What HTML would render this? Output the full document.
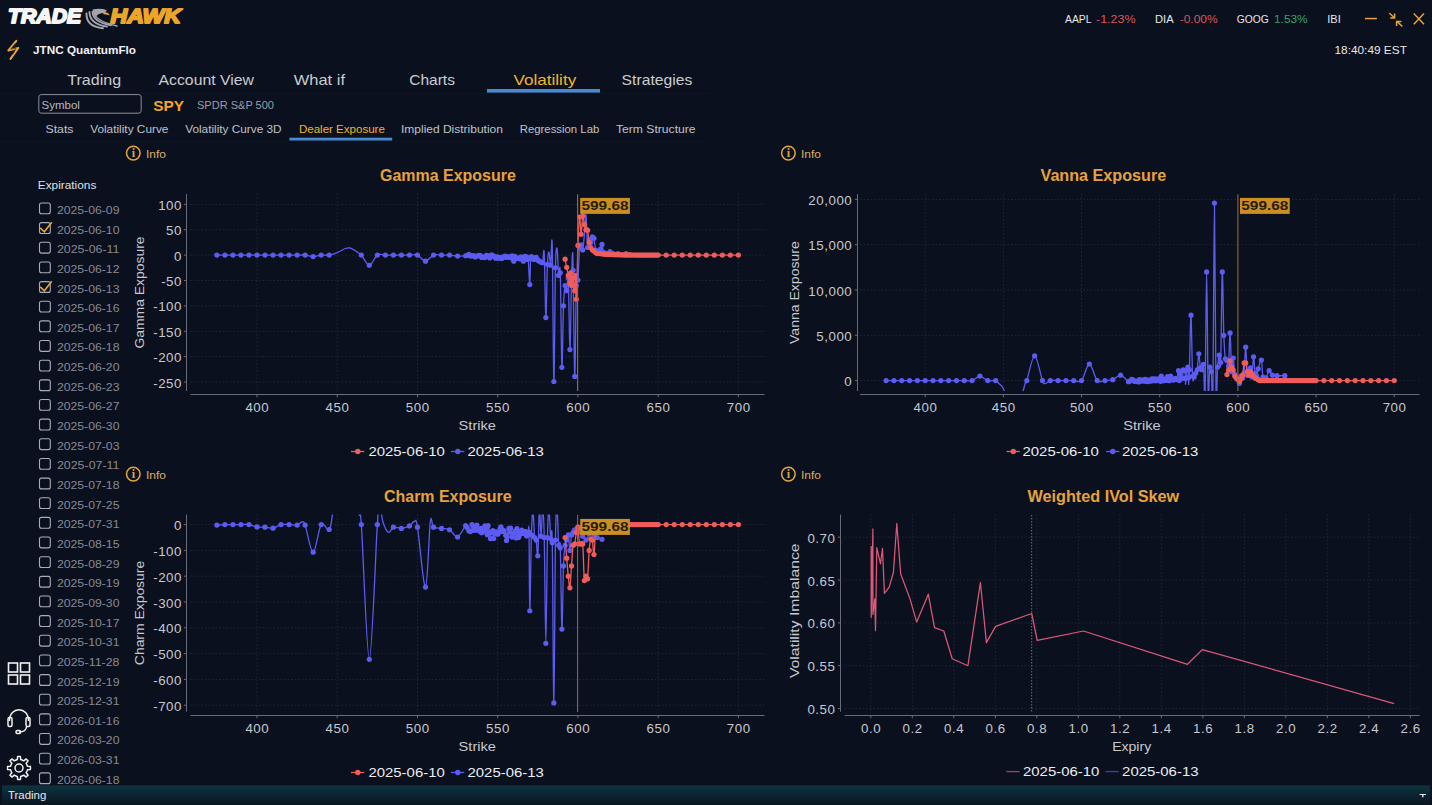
<!DOCTYPE html>
<html><head><meta charset="utf-8"><style>
html,body{margin:0;padding:0;background:#0b101e;overflow:hidden;}
svg{display:block;}
</style></head><body>
<svg width="1432" height="805" viewBox="0 0 1432 805">
<rect width="1432" height="805" fill="#0b101e"/>
<text x="8" y="22.8" font-family="Liberation Sans" font-size="21" font-weight="bold" font-style="italic" fill="#f6f6f6" stroke="#f6f6f6" stroke-width="1.9" stroke-linejoin="round" textLength="73.2" lengthAdjust="spacingAndGlyphs">TRADE</text>
<text x="110.6" y="22.8" font-family="Liberation Sans" font-size="21" font-weight="bold" font-style="italic" fill="#eba62a" stroke="#eba62a" stroke-width="1.9" stroke-linejoin="round" textLength="70.4" lengthAdjust="spacingAndGlyphs">HAWK</text>
<g fill="none" stroke="#a3a5ab" stroke-width="1.9" stroke-linecap="round"><path d="M86.5 13.5 Q86 26.5 103 28.2"/><path d="M89.5 12 Q89.5 24 107 26.6"/><path d="M92.5 12 Q93 22 111 25.2"/><path d="M95.5 15.5 Q98.5 21.5 117 26" stroke-width="1.4"/></g>
<path d="M92.5 9.6 Q100 7.6 107 10.2 L104.5 13 Q98.5 12.8 95.5 17.2 Q92.5 14 92.5 9.6 Z" fill="#a3a5ab"/>
<path d="M103.4 12.6 Q107.8 11 109.8 15.2 L106 14.6 Q104.5 14 103.4 14.2 Z" fill="#eaa62c"/>
<path d="M16.3 40.8 L8.4 50.4 L18.3 47.9 L10.5 58.9" fill="none" stroke="#e2a43a" stroke-width="2.1" stroke-linejoin="round" stroke-linecap="round"/>
<path d="M15.2 43.5 L10.8 49.2 L15.8 48.2 L12.8 54.5" fill="none" stroke="#0b101e" stroke-width="0.7" stroke-linejoin="round" opacity="0.7"/>
<text x="33" y="53.6" font-family="Liberation Sans" font-size="10.5" font-weight="bold" fill="#f2f2f2" text-anchor="start" textLength="103" lengthAdjust="spacingAndGlyphs" >JTNC QuantumFlo</text>
<text x="1065" y="23.2" font-family="Liberation Sans" font-size="10.5" font-weight="normal" fill="#e6e8ec" text-anchor="start" textLength="26.6" lengthAdjust="spacingAndGlyphs" >AAPL</text>
<text x="1096" y="23.2" font-family="Liberation Sans" font-size="10.5" font-weight="normal" fill="#d9545c" text-anchor="start" textLength="39.5" lengthAdjust="spacingAndGlyphs" >-1.23%</text>
<text x="1155" y="23.2" font-family="Liberation Sans" font-size="10.5" font-weight="normal" fill="#e6e8ec" text-anchor="start" textLength="18.6" lengthAdjust="spacingAndGlyphs" >DIA</text>
<text x="1179.7" y="23.2" font-family="Liberation Sans" font-size="10.5" font-weight="normal" fill="#d9545c" text-anchor="start" textLength="37.9" lengthAdjust="spacingAndGlyphs" >-0.00%</text>
<text x="1236.8" y="23.2" font-family="Liberation Sans" font-size="10.5" font-weight="normal" fill="#e6e8ec" text-anchor="start" textLength="32" lengthAdjust="spacingAndGlyphs" >GOOG</text>
<text x="1274" y="23.2" font-family="Liberation Sans" font-size="10.5" font-weight="normal" fill="#2fa56a" text-anchor="start" textLength="33.6" lengthAdjust="spacingAndGlyphs" >1.53%</text>
<text x="1327.3" y="23.2" font-family="Liberation Sans" font-size="10.5" font-weight="normal" fill="#e6e8ec" text-anchor="start" textLength="13.4" lengthAdjust="spacingAndGlyphs" >IBI</text>
<rect x="1364.9" y="17.8" width="12" height="1.5" fill="#e8a33b"/>
<g stroke="#e8a33b" stroke-width="1.5" fill="none" stroke-linecap="butt"><path d="M1389.3 13 L1394.3 17.8"/><path d="M1390.2 17.9 L1394.6 17.9 L1394.6 13.5"/><path d="M1402.3 26.5 L1397 21.4"/><path d="M1401.4 21.4 L1396.6 21.4 L1396.6 26.1"/></g>
<g stroke="#e8a33b" stroke-width="1.45"><path d="M1413.8 13.6 L1424 24.2"/><path d="M1424 13.6 L1413.8 24.2"/></g>
<text x="1334.5" y="53.9" font-family="Liberation Sans" font-size="10.8" font-weight="normal" fill="#e6e8ec" text-anchor="start" textLength="72.4" lengthAdjust="spacingAndGlyphs" >18:40:49 EST</text>
<rect x="0" y="35" width="1360" height="1" fill="#10162500"/>
<text x="67.3" y="84.5" font-family="Liberation Sans" font-size="15" font-weight="normal" fill="#c9ccd2" text-anchor="start" textLength="53.8" lengthAdjust="spacingAndGlyphs" >Trading</text>
<text x="158.6" y="84.5" font-family="Liberation Sans" font-size="15" font-weight="normal" fill="#c9ccd2" text-anchor="start" textLength="95.2" lengthAdjust="spacingAndGlyphs" >Account View</text>
<text x="293.8" y="84.5" font-family="Liberation Sans" font-size="15" font-weight="normal" fill="#c9ccd2" text-anchor="start" textLength="51.2" lengthAdjust="spacingAndGlyphs" >What if</text>
<text x="409.3" y="84.5" font-family="Liberation Sans" font-size="15" font-weight="normal" fill="#c9ccd2" text-anchor="start" textLength="45.6" lengthAdjust="spacingAndGlyphs" >Charts</text>
<text x="513.5" y="84.5" font-family="Liberation Sans" font-size="15" font-weight="normal" fill="#f0b429" text-anchor="start" textLength="62.7" lengthAdjust="spacingAndGlyphs" >Volatility</text>
<text x="621.6" y="84.5" font-family="Liberation Sans" font-size="15" font-weight="normal" fill="#c9ccd2" text-anchor="start" textLength="70.7" lengthAdjust="spacingAndGlyphs" >Strategies</text>
<rect x="487" y="89" width="113" height="3.6" fill="#4b8ad0"/>
<rect x="0" y="93" width="710" height="1" fill="#0e1425"/>
<rect x="38.8" y="94.6" width="102.4" height="18.6" rx="2.5" fill="none" stroke="#8b8f98" stroke-width="1"/>
<text x="41.5" y="109.4" font-family="Liberation Sans" font-size="11" font-weight="normal" fill="#b5b8c0" text-anchor="start" textLength="38.4" lengthAdjust="spacingAndGlyphs" >Symbol</text>
<text x="153.2" y="110.9" font-family="Liberation Sans" font-size="14.5" font-weight="bold" fill="#f0a52a" text-anchor="start" textLength="30.8" lengthAdjust="spacingAndGlyphs" >SPY</text>
<text x="197" y="109.4" font-family="Liberation Sans" font-size="11" font-weight="normal" fill="#9a9da5" text-anchor="start" textLength="77" lengthAdjust="spacingAndGlyphs" >SPDR S&amp;P 500</text>
<text x="45.5" y="133" font-family="Liberation Sans" font-size="11.5" font-weight="normal" fill="#bfc3ca" text-anchor="start" textLength="28.0" lengthAdjust="spacingAndGlyphs" >Stats</text>
<text x="90.2" y="133" font-family="Liberation Sans" font-size="11.5" font-weight="normal" fill="#bfc3ca" text-anchor="start" textLength="78.2" lengthAdjust="spacingAndGlyphs" >Volatility Curve</text>
<text x="185.2" y="133" font-family="Liberation Sans" font-size="11.5" font-weight="normal" fill="#bfc3ca" text-anchor="start" textLength="96.4" lengthAdjust="spacingAndGlyphs" >Volatility Curve 3D</text>
<text x="298.9" y="133" font-family="Liberation Sans" font-size="11.5" font-weight="normal" fill="#f0b429" text-anchor="start" textLength="86.0" lengthAdjust="spacingAndGlyphs" >Dealer Exposure</text>
<text x="401" y="133" font-family="Liberation Sans" font-size="11.5" font-weight="normal" fill="#bfc3ca" text-anchor="start" textLength="101.9" lengthAdjust="spacingAndGlyphs" >Implied Distribution</text>
<text x="519.7" y="133" font-family="Liberation Sans" font-size="11.5" font-weight="normal" fill="#bfc3ca" text-anchor="start" textLength="79.6" lengthAdjust="spacingAndGlyphs" >Regression Lab</text>
<text x="616" y="133" font-family="Liberation Sans" font-size="11.5" font-weight="normal" fill="#bfc3ca" text-anchor="start" textLength="79.6" lengthAdjust="spacingAndGlyphs" >Term Structure</text>
<rect x="289.4" y="137.7" width="102.8" height="2.8" fill="#4b8ad0"/>
<rect x="0" y="141" width="705" height="1" fill="#0e1425"/>
<circle cx="133.3" cy="153.1" r="6.8" fill="none" stroke="#dfa642" stroke-width="1.5"/>
<text x="133.3" y="157.4" font-family="Liberation Serif" font-size="12" font-weight="bold" fill="#dfa642" text-anchor="middle">i</text>
<text x="145.9" y="157.9" font-family="Liberation Sans" font-size="10.5" font-weight="normal" fill="#dbb062" text-anchor="start" textLength="20" lengthAdjust="spacingAndGlyphs" >Info</text>
<circle cx="788.4" cy="153.1" r="6.8" fill="none" stroke="#dfa642" stroke-width="1.5"/>
<text x="788.4" y="157.4" font-family="Liberation Serif" font-size="12" font-weight="bold" fill="#dfa642" text-anchor="middle">i</text>
<text x="801.0" y="157.9" font-family="Liberation Sans" font-size="10.5" font-weight="normal" fill="#dbb062" text-anchor="start" textLength="20" lengthAdjust="spacingAndGlyphs" >Info</text>
<circle cx="133.3" cy="474.1" r="6.8" fill="none" stroke="#dfa642" stroke-width="1.5"/>
<text x="133.3" y="478.40000000000003" font-family="Liberation Serif" font-size="12" font-weight="bold" fill="#dfa642" text-anchor="middle">i</text>
<text x="145.9" y="478.90000000000003" font-family="Liberation Sans" font-size="10.5" font-weight="normal" fill="#dbb062" text-anchor="start" textLength="20" lengthAdjust="spacingAndGlyphs" >Info</text>
<circle cx="788.4" cy="474.1" r="6.8" fill="none" stroke="#dfa642" stroke-width="1.5"/>
<text x="788.4" y="478.40000000000003" font-family="Liberation Serif" font-size="12" font-weight="bold" fill="#dfa642" text-anchor="middle">i</text>
<text x="801.0" y="478.90000000000003" font-family="Liberation Sans" font-size="10.5" font-weight="normal" fill="#dbb062" text-anchor="start" textLength="20" lengthAdjust="spacingAndGlyphs" >Info</text>
<text x="37.8" y="189.3" font-family="Liberation Sans" font-size="11" font-weight="normal" fill="#dfe1e6" text-anchor="start" textLength="58.5" lengthAdjust="spacingAndGlyphs" >Expirations</text>
<rect x="39.5" y="203.00" width="10.8" height="10.8" rx="2" fill="none" stroke="#a9adb8" stroke-width="1.1"/>
<text x="56.9" y="213.9" font-family="Liberation Sans" font-size="10.0" font-weight="normal" fill="#868a93" text-anchor="start" textLength="62.6" lengthAdjust="spacingAndGlyphs" >2025-06-09</text>
<rect x="39.5" y="222.65" width="10.8" height="10.8" rx="2" fill="none" stroke="#a9adb8" stroke-width="1.1"/>
<path d="M40.2 227.95 L44.3 231.85 L51.8 222.25" fill="none" stroke="#eaa630" stroke-width="1.6"/>
<text x="56.9" y="233.55" font-family="Liberation Sans" font-size="10.0" font-weight="normal" fill="#868a93" text-anchor="start" textLength="62.6" lengthAdjust="spacingAndGlyphs" >2025-06-10</text>
<rect x="39.5" y="242.30" width="10.8" height="10.8" rx="2" fill="none" stroke="#a9adb8" stroke-width="1.1"/>
<text x="56.9" y="253.20000000000002" font-family="Liberation Sans" font-size="10.0" font-weight="normal" fill="#868a93" text-anchor="start" textLength="62.6" lengthAdjust="spacingAndGlyphs" >2025-06-11</text>
<rect x="39.5" y="261.95" width="10.8" height="10.8" rx="2" fill="none" stroke="#a9adb8" stroke-width="1.1"/>
<text x="56.9" y="272.84999999999997" font-family="Liberation Sans" font-size="10.0" font-weight="normal" fill="#868a93" text-anchor="start" textLength="62.6" lengthAdjust="spacingAndGlyphs" >2025-06-12</text>
<rect x="39.5" y="281.60" width="10.8" height="10.8" rx="2" fill="none" stroke="#a9adb8" stroke-width="1.1"/>
<path d="M40.2 286.90 L44.3 290.80 L51.8 281.20" fill="none" stroke="#eaa630" stroke-width="1.6"/>
<text x="56.9" y="292.5" font-family="Liberation Sans" font-size="10.0" font-weight="normal" fill="#868a93" text-anchor="start" textLength="62.6" lengthAdjust="spacingAndGlyphs" >2025-06-13</text>
<rect x="39.5" y="301.25" width="10.8" height="10.8" rx="2" fill="none" stroke="#a9adb8" stroke-width="1.1"/>
<text x="56.9" y="312.15" font-family="Liberation Sans" font-size="10.0" font-weight="normal" fill="#868a93" text-anchor="start" textLength="62.6" lengthAdjust="spacingAndGlyphs" >2025-06-16</text>
<rect x="39.5" y="320.90" width="10.8" height="10.8" rx="2" fill="none" stroke="#a9adb8" stroke-width="1.1"/>
<text x="56.9" y="331.79999999999995" font-family="Liberation Sans" font-size="10.0" font-weight="normal" fill="#868a93" text-anchor="start" textLength="62.6" lengthAdjust="spacingAndGlyphs" >2025-06-17</text>
<rect x="39.5" y="340.55" width="10.8" height="10.8" rx="2" fill="none" stroke="#a9adb8" stroke-width="1.1"/>
<text x="56.9" y="351.44999999999993" font-family="Liberation Sans" font-size="10.0" font-weight="normal" fill="#868a93" text-anchor="start" textLength="62.6" lengthAdjust="spacingAndGlyphs" >2025-06-18</text>
<rect x="39.5" y="360.20" width="10.8" height="10.8" rx="2" fill="none" stroke="#a9adb8" stroke-width="1.1"/>
<text x="56.9" y="371.09999999999997" font-family="Liberation Sans" font-size="10.0" font-weight="normal" fill="#868a93" text-anchor="start" textLength="62.6" lengthAdjust="spacingAndGlyphs" >2025-06-20</text>
<rect x="39.5" y="379.85" width="10.8" height="10.8" rx="2" fill="none" stroke="#a9adb8" stroke-width="1.1"/>
<text x="56.9" y="390.75" font-family="Liberation Sans" font-size="10.0" font-weight="normal" fill="#868a93" text-anchor="start" textLength="62.6" lengthAdjust="spacingAndGlyphs" >2025-06-23</text>
<rect x="39.5" y="399.50" width="10.8" height="10.8" rx="2" fill="none" stroke="#a9adb8" stroke-width="1.1"/>
<text x="56.9" y="410.4" font-family="Liberation Sans" font-size="10.0" font-weight="normal" fill="#868a93" text-anchor="start" textLength="62.6" lengthAdjust="spacingAndGlyphs" >2025-06-27</text>
<rect x="39.5" y="419.15" width="10.8" height="10.8" rx="2" fill="none" stroke="#a9adb8" stroke-width="1.1"/>
<text x="56.9" y="430.04999999999995" font-family="Liberation Sans" font-size="10.0" font-weight="normal" fill="#868a93" text-anchor="start" textLength="62.6" lengthAdjust="spacingAndGlyphs" >2025-06-30</text>
<rect x="39.5" y="438.80" width="10.8" height="10.8" rx="2" fill="none" stroke="#a9adb8" stroke-width="1.1"/>
<text x="56.9" y="449.69999999999993" font-family="Liberation Sans" font-size="10.0" font-weight="normal" fill="#868a93" text-anchor="start" textLength="62.6" lengthAdjust="spacingAndGlyphs" >2025-07-03</text>
<rect x="39.5" y="458.45" width="10.8" height="10.8" rx="2" fill="none" stroke="#a9adb8" stroke-width="1.1"/>
<text x="56.9" y="469.34999999999997" font-family="Liberation Sans" font-size="10.0" font-weight="normal" fill="#868a93" text-anchor="start" textLength="62.6" lengthAdjust="spacingAndGlyphs" >2025-07-11</text>
<rect x="39.5" y="478.10" width="10.8" height="10.8" rx="2" fill="none" stroke="#a9adb8" stroke-width="1.1"/>
<text x="56.9" y="488.99999999999994" font-family="Liberation Sans" font-size="10.0" font-weight="normal" fill="#868a93" text-anchor="start" textLength="62.6" lengthAdjust="spacingAndGlyphs" >2025-07-18</text>
<rect x="39.5" y="497.75" width="10.8" height="10.8" rx="2" fill="none" stroke="#a9adb8" stroke-width="1.1"/>
<text x="56.9" y="508.65" font-family="Liberation Sans" font-size="10.0" font-weight="normal" fill="#868a93" text-anchor="start" textLength="62.6" lengthAdjust="spacingAndGlyphs" >2025-07-25</text>
<rect x="39.5" y="517.40" width="10.8" height="10.8" rx="2" fill="none" stroke="#a9adb8" stroke-width="1.1"/>
<text x="56.9" y="528.3" font-family="Liberation Sans" font-size="10.0" font-weight="normal" fill="#868a93" text-anchor="start" textLength="62.6" lengthAdjust="spacingAndGlyphs" >2025-07-31</text>
<rect x="39.5" y="537.05" width="10.8" height="10.8" rx="2" fill="none" stroke="#a9adb8" stroke-width="1.1"/>
<text x="56.9" y="547.9499999999999" font-family="Liberation Sans" font-size="10.0" font-weight="normal" fill="#868a93" text-anchor="start" textLength="62.6" lengthAdjust="spacingAndGlyphs" >2025-08-15</text>
<rect x="39.5" y="556.70" width="10.8" height="10.8" rx="2" fill="none" stroke="#a9adb8" stroke-width="1.1"/>
<text x="56.9" y="567.6" font-family="Liberation Sans" font-size="10.0" font-weight="normal" fill="#868a93" text-anchor="start" textLength="62.6" lengthAdjust="spacingAndGlyphs" >2025-08-29</text>
<rect x="39.5" y="576.35" width="10.8" height="10.8" rx="2" fill="none" stroke="#a9adb8" stroke-width="1.1"/>
<text x="56.9" y="587.2499999999999" font-family="Liberation Sans" font-size="10.0" font-weight="normal" fill="#868a93" text-anchor="start" textLength="62.6" lengthAdjust="spacingAndGlyphs" >2025-09-19</text>
<rect x="39.5" y="596.00" width="10.8" height="10.8" rx="2" fill="none" stroke="#a9adb8" stroke-width="1.1"/>
<text x="56.9" y="606.9" font-family="Liberation Sans" font-size="10.0" font-weight="normal" fill="#868a93" text-anchor="start" textLength="62.6" lengthAdjust="spacingAndGlyphs" >2025-09-30</text>
<rect x="39.5" y="615.65" width="10.8" height="10.8" rx="2" fill="none" stroke="#a9adb8" stroke-width="1.1"/>
<text x="56.9" y="626.55" font-family="Liberation Sans" font-size="10.0" font-weight="normal" fill="#868a93" text-anchor="start" textLength="62.6" lengthAdjust="spacingAndGlyphs" >2025-10-17</text>
<rect x="39.5" y="635.30" width="10.8" height="10.8" rx="2" fill="none" stroke="#a9adb8" stroke-width="1.1"/>
<text x="56.9" y="646.1999999999999" font-family="Liberation Sans" font-size="10.0" font-weight="normal" fill="#868a93" text-anchor="start" textLength="62.6" lengthAdjust="spacingAndGlyphs" >2025-10-31</text>
<rect x="39.5" y="654.95" width="10.8" height="10.8" rx="2" fill="none" stroke="#a9adb8" stroke-width="1.1"/>
<text x="56.9" y="665.85" font-family="Liberation Sans" font-size="10.0" font-weight="normal" fill="#868a93" text-anchor="start" textLength="62.6" lengthAdjust="spacingAndGlyphs" >2025-11-28</text>
<rect x="39.5" y="674.60" width="10.8" height="10.8" rx="2" fill="none" stroke="#a9adb8" stroke-width="1.1"/>
<text x="56.9" y="685.4999999999999" font-family="Liberation Sans" font-size="10.0" font-weight="normal" fill="#868a93" text-anchor="start" textLength="62.6" lengthAdjust="spacingAndGlyphs" >2025-12-19</text>
<rect x="39.5" y="694.25" width="10.8" height="10.8" rx="2" fill="none" stroke="#a9adb8" stroke-width="1.1"/>
<text x="56.9" y="705.15" font-family="Liberation Sans" font-size="10.0" font-weight="normal" fill="#868a93" text-anchor="start" textLength="62.6" lengthAdjust="spacingAndGlyphs" >2025-12-31</text>
<rect x="39.5" y="713.90" width="10.8" height="10.8" rx="2" fill="none" stroke="#a9adb8" stroke-width="1.1"/>
<text x="56.9" y="724.8" font-family="Liberation Sans" font-size="10.0" font-weight="normal" fill="#868a93" text-anchor="start" textLength="62.6" lengthAdjust="spacingAndGlyphs" >2026-01-16</text>
<rect x="39.5" y="733.55" width="10.8" height="10.8" rx="2" fill="none" stroke="#a9adb8" stroke-width="1.1"/>
<text x="56.9" y="744.4499999999999" font-family="Liberation Sans" font-size="10.0" font-weight="normal" fill="#868a93" text-anchor="start" textLength="62.6" lengthAdjust="spacingAndGlyphs" >2026-03-20</text>
<rect x="39.5" y="753.20" width="10.8" height="10.8" rx="2" fill="none" stroke="#a9adb8" stroke-width="1.1"/>
<text x="56.9" y="764.0999999999999" font-family="Liberation Sans" font-size="10.0" font-weight="normal" fill="#868a93" text-anchor="start" textLength="62.6" lengthAdjust="spacingAndGlyphs" >2026-03-31</text>
<rect x="39.5" y="772.85" width="10.8" height="10.8" rx="2" fill="none" stroke="#a9adb8" stroke-width="1.1"/>
<text x="56.9" y="783.7499999999999" font-family="Liberation Sans" font-size="10.0" font-weight="normal" fill="#868a93" text-anchor="start" textLength="62.6" lengthAdjust="spacingAndGlyphs" >2026-06-18</text>
<g fill="none" stroke="#f2f2f2" stroke-width="1.6"><rect x="8.5" y="663" width="9" height="9"/><rect x="20.5" y="663" width="9" height="9"/><rect x="8.5" y="675" width="9" height="9"/><rect x="20.5" y="675" width="9" height="9"/></g>
<g fill="none" stroke="#f2f2f2" stroke-width="1.5"><path d="M9.5 721 C9.5 706 28.5 706 28.5 721"/><rect x="8" y="717.5" width="4" height="9" rx="1.5"/><rect x="26" y="717.5" width="4" height="9" rx="1.5"/><path d="M26.5 727 C26 731 23 732 19 732"/><rect x="16" y="730.5" width="4.5" height="3" rx="1.2"/></g>
<path d="M27.43 766.29 L30.42 766.62 L30.42 769.38 L27.43 769.71 L27.23 770.48 L26.17 772.75 L28.05 775.10 L26.10 777.05 L23.75 775.17 L23.07 775.58 L20.71 776.43 L20.38 779.42 L17.62 779.42 L17.29 776.43 L16.52 776.23 L14.25 775.17 L11.90 777.05 L9.95 775.10 L11.83 772.75 L11.42 772.07 L10.57 769.71 L7.58 769.38 L7.58 766.62 L10.57 766.29 L10.77 765.52 L11.83 763.25 L9.95 760.90 L11.90 758.95 L14.25 760.83 L14.93 760.42 L17.29 759.57 L17.62 756.58 L20.38 756.58 L20.71 759.57 L21.48 759.77 L23.75 760.83 L26.10 758.95 L28.05 760.90 L26.17 763.25 L26.58 763.93 Z" fill="none" stroke="#f2f2f2" stroke-width="1.5" stroke-linejoin="round"/>
<circle cx="19" cy="768" r="4" fill="none" stroke="#f2f2f2" stroke-width="1.5"/>
<defs><linearGradient id="bb" x1="0" y1="0" x2="0" y2="1"><stop offset="0" stop-color="#0d3440"/><stop offset="0.45" stop-color="#0b2532"/><stop offset="1" stop-color="#0a1522"/></linearGradient></defs>
<rect x="2" y="785.4" width="1428.3" height="19.6" fill="url(#bb)"/>
<text x="8" y="799.1" font-family="Liberation Sans" font-size="10.7" font-weight="normal" fill="#e8eaee" text-anchor="start" textLength="38.3" lengthAdjust="spacingAndGlyphs" >Trading</text>
<path d="M1419.6 793.9 L1426 793.9 L1426 795.1 L1423.5 795.1 L1423.5 797.2 L1422.1 797.2 L1422.1 795.1 L1419.6 795.1 Z" fill="#e6e6e6"/>
<text x="380" y="180.7" font-family="Liberation Sans" font-size="16" font-weight="bold" fill="#e6a23c" text-anchor="start" textLength="135.8" lengthAdjust="spacingAndGlyphs" >Gamma Exposure</text>
<path d="M577.6 194.5V391" stroke="#9a7a3a" stroke-width="1"/>
<clipPath id="cg"><rect x="190" y="194" width="575" height="197"/></clipPath>
<path d="M257.0 194V391 M337.2 194V391 M417.5 194V391 M497.7 194V391 M577.9 194V391 M658.2 194V391 M738.4 194V391 M190.5 204.3H764.5 M190.5 229.7H764.5 M190.5 255.1H764.5 M190.5 280.5H764.5 M190.5 305.9H764.5 M190.5 331.3H764.5 M190.5 356.6H764.5 M190.5 382.0H764.5" stroke="#21273a" stroke-width="1" stroke-dasharray="1.5 2.1" fill="none"/>
<path d="M186.5 194V391 M190.5 394.5H764.5" stroke="#666c7a" stroke-width="1" fill="none"/>
<path d="M257.0 394.5v2.8 M337.2 394.5v2.8 M417.5 394.5v2.8 M497.7 394.5v2.8 M577.9 394.5v2.8 M658.2 394.5v2.8 M738.4 394.5v2.8 M186.5 204.3h-2.6 M186.5 229.7h-2.6 M186.5 255.1h-2.6 M186.5 280.5h-2.6 M186.5 305.9h-2.6 M186.5 331.3h-2.6 M186.5 356.6h-2.6 M186.5 382.0h-2.6" stroke="#666c7a" stroke-width="1" fill="none"/>
<g clip-path="url(#cg)">
<path d="M216.88 255.10 C218.22 255.10 222.23 255.10 224.91 255.10 C227.58 255.10 230.25 255.10 232.93 255.10 C235.60 255.10 238.28 255.10 240.95 255.10 C243.63 255.10 246.30 255.10 248.98 255.10 C251.65 255.10 254.33 255.10 257.00 255.10 C259.67 255.10 262.35 255.10 265.02 255.10 C267.70 255.10 270.37 255.10 273.05 255.10 C275.72 255.10 278.40 255.10 281.07 255.10 C283.75 255.10 286.42 255.10 289.09 255.10 C291.77 255.10 294.44 255.10 297.12 255.10 C299.79 255.10 302.47 254.85 305.14 255.10 C307.82 255.35 310.49 256.62 313.16 256.62 C315.84 256.62 318.51 255.35 321.19 255.10 C323.86 254.85 326.54 255.52 329.21 255.10 C331.89 254.68 334.56 253.66 337.24 252.56 C339.91 251.46 343.12 249.26 345.26 248.50 C347.40 247.74 348.47 247.65 350.07 247.99 C351.68 248.33 353.01 249.35 354.89 250.53 C356.76 251.72 358.90 252.65 361.31 255.10 C363.71 257.55 366.65 265.25 369.33 265.25 C372.00 265.25 374.68 256.79 377.35 255.10 C380.03 253.41 382.70 255.10 385.38 255.10 C388.05 255.10 390.72 255.10 393.40 255.10 C396.07 255.10 398.75 255.10 401.42 255.10 C404.10 255.10 406.77 255.10 409.45 255.10 C412.12 255.10 414.80 254.08 417.47 255.10 C420.14 256.12 422.82 261.19 425.49 261.19 C428.17 261.19 430.84 256.12 433.52 255.10 C436.19 254.08 438.87 255.10 441.54 255.10 C444.22 255.10 446.89 254.93 449.56 255.10 C452.24 255.27 454.91 256.01 457.59 256.12 C460.26 256.22 464.01 255.86 465.61 255.75 C467.22 255.65 466.68 255.71 467.22 255.49 C467.75 255.27 468.29 254.37 468.82 254.44 C469.36 254.51 469.89 255.66 470.43 255.90 C470.96 256.13 471.49 255.87 472.03 255.83 C472.56 255.79 473.10 255.46 473.63 255.65 C474.17 255.83 474.70 256.88 475.24 256.93 C475.77 256.99 476.31 256.20 476.84 256.00 C477.38 255.79 477.91 255.82 478.45 255.70 C478.98 255.58 479.52 254.97 480.05 255.26 C480.59 255.56 481.12 257.18 481.66 257.45 C482.19 257.72 482.73 256.85 483.26 256.88 C483.80 256.90 484.33 257.82 484.87 257.59 C485.40 257.35 485.94 255.74 486.47 255.46 C487.01 255.17 487.54 255.46 488.08 255.87 C488.61 256.28 489.15 258.04 489.68 257.92 C490.22 257.79 490.89 255.57 491.29 255.11 C491.69 254.66 491.82 254.99 492.09 255.17 C492.36 255.34 492.49 255.98 492.89 256.17 C493.29 256.37 494.09 256.09 494.50 256.35 C494.90 256.61 495.03 257.43 495.30 257.75 C495.57 258.06 495.70 258.41 496.10 258.24 C496.50 258.07 497.30 256.75 497.71 256.74 C498.11 256.73 498.24 257.99 498.51 258.17 C498.77 258.35 498.91 257.90 499.31 257.83 C499.71 257.76 500.51 257.64 500.91 257.73 C501.32 257.83 501.45 258.48 501.72 258.38 C501.98 258.28 502.12 257.31 502.52 257.12 C502.92 256.93 503.72 257.43 504.12 257.25 C504.52 257.07 504.66 256.06 504.93 256.03 C505.19 256.00 505.33 256.95 505.73 257.07 C506.13 257.20 506.93 256.74 507.33 256.76 C507.73 256.78 507.87 257.19 508.14 257.19 C508.40 257.19 508.54 256.72 508.94 256.76 C509.34 256.80 510.14 257.24 510.54 257.44 C510.94 257.65 511.08 258.25 511.34 257.99 C511.61 257.73 511.75 255.32 512.15 255.86 C512.55 256.39 513.35 261.10 513.75 261.19 C514.15 261.28 514.29 257.12 514.55 256.40 C514.82 255.68 514.96 256.58 515.36 256.86 C515.76 257.15 516.56 257.87 516.96 258.12 C517.36 258.37 517.50 258.36 517.76 258.38 C518.03 258.40 518.16 258.16 518.57 258.26 C518.97 258.36 519.77 259.22 520.17 258.99 C520.57 258.76 520.71 257.03 520.97 256.87 C521.24 256.71 521.37 257.32 521.78 258.04 C522.18 258.76 522.98 261.18 523.38 261.19 C523.78 261.21 523.92 258.93 524.18 258.15 C524.45 257.36 524.58 256.68 524.98 256.47 C525.39 256.25 526.19 256.37 526.59 256.86 C526.99 257.36 527.12 259.11 527.39 259.44 C527.66 259.78 527.79 254.68 528.19 258.87 C528.60 263.05 529.40 284.67 529.80 284.55 C530.20 284.42 530.33 262.79 530.60 258.14 C530.87 253.49 531.00 256.59 531.40 256.64 C531.80 256.70 532.61 258.01 533.01 258.48 C533.41 258.95 533.54 259.57 533.81 259.47 C534.08 259.36 534.21 258.17 534.61 257.83 C535.01 257.50 535.82 257.25 536.22 257.44 C536.62 257.63 536.75 258.53 537.02 258.99 C537.29 259.45 537.42 259.81 537.82 260.18 C538.22 260.54 538.89 260.85 539.43 261.19 C539.96 261.53 540.50 261.95 541.03 262.21 C541.57 262.46 542.10 264.24 542.64 262.72 C543.17 261.19 543.71 243.93 544.24 253.07 C544.78 262.21 545.31 315.69 545.85 317.55 C546.38 319.41 546.92 275.15 547.45 264.24 C547.99 253.32 548.52 251.88 549.06 252.05 C549.59 252.22 550.13 266.35 550.66 265.25 C551.20 264.15 551.73 226.08 552.26 245.45 C552.80 264.83 553.33 377.79 553.87 381.52 C554.40 385.24 554.94 289.96 555.47 267.79 C556.01 245.62 556.54 247.23 557.08 248.50 C557.61 249.77 558.15 271.35 558.68 275.41 C559.22 279.47 559.75 257.55 560.29 272.87 C560.82 288.19 561.36 361.80 561.89 367.30 C562.43 372.80 562.96 319.49 563.50 305.87 C564.03 292.25 564.57 288.10 565.10 285.56 C565.64 283.02 566.17 291.91 566.71 290.64 C567.24 289.37 567.78 268.13 568.31 277.95 C568.85 287.76 569.38 349.11 569.92 349.53 C570.45 349.96 571.09 296.48 571.52 280.49 C571.95 264.49 572.22 255.27 572.48 253.58 C572.75 251.88 572.75 249.85 573.13 270.33 C573.50 290.81 574.20 373.90 574.73 376.44 C575.27 378.98 575.80 301.64 576.34 285.56 C576.87 269.48 577.41 286.32 577.94 279.98 C578.47 273.63 579.01 253.32 579.54 247.48 C580.08 241.65 580.61 244.52 581.15 244.95 C581.68 245.37 582.22 251.72 582.75 250.02 C583.29 248.33 583.82 240.72 584.36 234.79 C584.89 228.87 585.43 212.37 585.96 214.48 C586.50 216.60 587.03 243.25 587.57 247.48 C588.10 251.72 588.64 240.72 589.17 239.87 C589.71 239.02 590.24 242.92 590.78 242.41 C591.31 241.90 591.85 237.50 592.38 236.82 C592.92 236.15 593.45 236.15 593.99 238.35 C594.52 240.55 595.06 247.65 595.59 250.02 C596.13 252.39 596.66 252.39 597.20 252.56 C597.73 252.73 598.27 251.63 598.80 251.04 C599.34 250.45 599.87 250.11 600.41 249.01 C600.94 247.91 601.48 243.85 602.01 244.44 C602.55 245.03 603.08 251.12 603.62 252.56 C604.15 254.00 604.69 252.90 605.22 253.07 C605.75 253.24 606.29 253.41 606.82 253.58 C607.36 253.75 607.89 254.42 608.43 254.08 C608.96 253.75 609.23 251.63 610.03 251.55 C610.84 251.46 611.91 253.24 613.24 253.58 C614.58 253.92 615.92 253.58 618.06 253.58 C620.20 253.58 624.74 253.58 626.08 253.58" fill="none" stroke="#5c5cf2" stroke-width="1.3" stroke-linejoin="round"/>
<circle cx="216.88" cy="255.10" r="2.6" fill="#5c5cf2"/>
<circle cx="224.91" cy="255.10" r="2.6" fill="#5c5cf2"/>
<circle cx="232.93" cy="255.10" r="2.6" fill="#5c5cf2"/>
<circle cx="240.95" cy="255.10" r="2.6" fill="#5c5cf2"/>
<circle cx="248.98" cy="255.10" r="2.6" fill="#5c5cf2"/>
<circle cx="257.00" cy="255.10" r="2.6" fill="#5c5cf2"/>
<circle cx="265.02" cy="255.10" r="2.6" fill="#5c5cf2"/>
<circle cx="273.05" cy="255.10" r="2.6" fill="#5c5cf2"/>
<circle cx="281.07" cy="255.10" r="2.6" fill="#5c5cf2"/>
<circle cx="289.09" cy="255.10" r="2.6" fill="#5c5cf2"/>
<circle cx="297.12" cy="255.10" r="2.6" fill="#5c5cf2"/>
<circle cx="305.14" cy="255.10" r="2.6" fill="#5c5cf2"/>
<circle cx="313.16" cy="256.62" r="2.6" fill="#5c5cf2"/>
<circle cx="321.19" cy="255.10" r="2.6" fill="#5c5cf2"/>
<circle cx="329.21" cy="255.10" r="2.6" fill="#5c5cf2"/>
<circle cx="361.31" cy="255.10" r="2.6" fill="#5c5cf2"/>
<circle cx="369.33" cy="265.25" r="2.6" fill="#5c5cf2"/>
<circle cx="377.35" cy="255.10" r="2.6" fill="#5c5cf2"/>
<circle cx="385.38" cy="255.10" r="2.6" fill="#5c5cf2"/>
<circle cx="393.40" cy="255.10" r="2.6" fill="#5c5cf2"/>
<circle cx="401.42" cy="255.10" r="2.6" fill="#5c5cf2"/>
<circle cx="409.45" cy="255.10" r="2.6" fill="#5c5cf2"/>
<circle cx="417.47" cy="255.10" r="2.6" fill="#5c5cf2"/>
<circle cx="425.49" cy="261.19" r="2.6" fill="#5c5cf2"/>
<circle cx="433.52" cy="255.10" r="2.6" fill="#5c5cf2"/>
<circle cx="441.54" cy="255.10" r="2.6" fill="#5c5cf2"/>
<circle cx="449.56" cy="255.10" r="2.6" fill="#5c5cf2"/>
<circle cx="457.59" cy="256.12" r="2.6" fill="#5c5cf2"/>
<circle cx="465.61" cy="255.75" r="2.6" fill="#5c5cf2"/>
<circle cx="467.22" cy="255.49" r="2.6" fill="#5c5cf2"/>
<circle cx="468.82" cy="254.44" r="2.6" fill="#5c5cf2"/>
<circle cx="470.43" cy="255.90" r="2.6" fill="#5c5cf2"/>
<circle cx="472.03" cy="255.83" r="2.6" fill="#5c5cf2"/>
<circle cx="473.63" cy="255.65" r="2.6" fill="#5c5cf2"/>
<circle cx="475.24" cy="256.93" r="2.6" fill="#5c5cf2"/>
<circle cx="476.84" cy="256.00" r="2.6" fill="#5c5cf2"/>
<circle cx="478.45" cy="255.70" r="2.6" fill="#5c5cf2"/>
<circle cx="480.05" cy="255.26" r="2.6" fill="#5c5cf2"/>
<circle cx="481.66" cy="257.45" r="2.6" fill="#5c5cf2"/>
<circle cx="483.26" cy="256.88" r="2.6" fill="#5c5cf2"/>
<circle cx="484.87" cy="257.59" r="2.6" fill="#5c5cf2"/>
<circle cx="486.47" cy="255.46" r="2.6" fill="#5c5cf2"/>
<circle cx="488.08" cy="255.87" r="2.6" fill="#5c5cf2"/>
<circle cx="489.68" cy="257.92" r="2.6" fill="#5c5cf2"/>
<circle cx="491.29" cy="255.11" r="2.6" fill="#5c5cf2"/>
<circle cx="492.09" cy="255.17" r="2.6" fill="#5c5cf2"/>
<circle cx="492.89" cy="256.17" r="2.6" fill="#5c5cf2"/>
<circle cx="494.50" cy="256.35" r="2.6" fill="#5c5cf2"/>
<circle cx="495.30" cy="257.75" r="2.6" fill="#5c5cf2"/>
<circle cx="496.10" cy="258.24" r="2.6" fill="#5c5cf2"/>
<circle cx="497.71" cy="256.74" r="2.6" fill="#5c5cf2"/>
<circle cx="498.51" cy="258.17" r="2.6" fill="#5c5cf2"/>
<circle cx="499.31" cy="257.83" r="2.6" fill="#5c5cf2"/>
<circle cx="500.91" cy="257.73" r="2.6" fill="#5c5cf2"/>
<circle cx="501.72" cy="258.38" r="2.6" fill="#5c5cf2"/>
<circle cx="502.52" cy="257.12" r="2.6" fill="#5c5cf2"/>
<circle cx="504.12" cy="257.25" r="2.6" fill="#5c5cf2"/>
<circle cx="504.93" cy="256.03" r="2.6" fill="#5c5cf2"/>
<circle cx="505.73" cy="257.07" r="2.6" fill="#5c5cf2"/>
<circle cx="507.33" cy="256.76" r="2.6" fill="#5c5cf2"/>
<circle cx="508.14" cy="257.19" r="2.6" fill="#5c5cf2"/>
<circle cx="508.94" cy="256.76" r="2.6" fill="#5c5cf2"/>
<circle cx="510.54" cy="257.44" r="2.6" fill="#5c5cf2"/>
<circle cx="511.34" cy="257.99" r="2.6" fill="#5c5cf2"/>
<circle cx="512.15" cy="255.86" r="2.6" fill="#5c5cf2"/>
<circle cx="513.75" cy="261.19" r="2.6" fill="#5c5cf2"/>
<circle cx="514.55" cy="256.40" r="2.6" fill="#5c5cf2"/>
<circle cx="515.36" cy="256.86" r="2.6" fill="#5c5cf2"/>
<circle cx="516.96" cy="258.12" r="2.6" fill="#5c5cf2"/>
<circle cx="517.76" cy="258.38" r="2.6" fill="#5c5cf2"/>
<circle cx="518.57" cy="258.26" r="2.6" fill="#5c5cf2"/>
<circle cx="520.17" cy="258.99" r="2.6" fill="#5c5cf2"/>
<circle cx="520.97" cy="256.87" r="2.6" fill="#5c5cf2"/>
<circle cx="521.78" cy="258.04" r="2.6" fill="#5c5cf2"/>
<circle cx="523.38" cy="261.19" r="2.6" fill="#5c5cf2"/>
<circle cx="524.18" cy="258.15" r="2.6" fill="#5c5cf2"/>
<circle cx="524.98" cy="256.47" r="2.6" fill="#5c5cf2"/>
<circle cx="526.59" cy="256.86" r="2.6" fill="#5c5cf2"/>
<circle cx="527.39" cy="259.44" r="2.6" fill="#5c5cf2"/>
<circle cx="528.19" cy="258.87" r="2.6" fill="#5c5cf2"/>
<circle cx="529.80" cy="284.55" r="2.6" fill="#5c5cf2"/>
<circle cx="530.60" cy="258.14" r="2.6" fill="#5c5cf2"/>
<circle cx="531.40" cy="256.64" r="2.6" fill="#5c5cf2"/>
<circle cx="533.01" cy="258.48" r="2.6" fill="#5c5cf2"/>
<circle cx="533.81" cy="259.47" r="2.6" fill="#5c5cf2"/>
<circle cx="534.61" cy="257.83" r="2.6" fill="#5c5cf2"/>
<circle cx="536.22" cy="257.44" r="2.6" fill="#5c5cf2"/>
<circle cx="537.02" cy="258.99" r="2.6" fill="#5c5cf2"/>
<circle cx="537.82" cy="260.18" r="2.6" fill="#5c5cf2"/>
<circle cx="539.43" cy="261.19" r="2.6" fill="#5c5cf2"/>
<circle cx="541.03" cy="262.21" r="2.6" fill="#5c5cf2"/>
<circle cx="542.64" cy="262.72" r="2.6" fill="#5c5cf2"/>
<circle cx="545.85" cy="317.55" r="2.6" fill="#5c5cf2"/>
<circle cx="547.45" cy="264.24" r="2.6" fill="#5c5cf2"/>
<circle cx="550.66" cy="265.25" r="2.6" fill="#5c5cf2"/>
<circle cx="553.87" cy="381.52" r="2.6" fill="#5c5cf2"/>
<circle cx="555.47" cy="267.79" r="2.6" fill="#5c5cf2"/>
<circle cx="558.68" cy="275.41" r="2.6" fill="#5c5cf2"/>
<circle cx="560.29" cy="272.87" r="2.6" fill="#5c5cf2"/>
<circle cx="561.89" cy="367.30" r="2.6" fill="#5c5cf2"/>
<circle cx="563.50" cy="305.87" r="2.6" fill="#5c5cf2"/>
<circle cx="565.10" cy="285.56" r="2.6" fill="#5c5cf2"/>
<circle cx="566.71" cy="290.64" r="2.6" fill="#5c5cf2"/>
<circle cx="568.31" cy="277.95" r="2.6" fill="#5c5cf2"/>
<circle cx="569.92" cy="349.53" r="2.6" fill="#5c5cf2"/>
<circle cx="571.52" cy="280.49" r="2.6" fill="#5c5cf2"/>
<circle cx="573.13" cy="270.33" r="2.6" fill="#5c5cf2"/>
<circle cx="574.73" cy="376.44" r="2.6" fill="#5c5cf2"/>
<circle cx="576.34" cy="285.56" r="2.6" fill="#5c5cf2"/>
<circle cx="577.94" cy="279.98" r="2.6" fill="#5c5cf2"/>
<circle cx="579.54" cy="247.48" r="2.6" fill="#5c5cf2"/>
<circle cx="581.15" cy="244.95" r="2.6" fill="#5c5cf2"/>
<circle cx="582.75" cy="250.02" r="2.6" fill="#5c5cf2"/>
<circle cx="587.57" cy="247.48" r="2.6" fill="#5c5cf2"/>
<circle cx="589.17" cy="239.87" r="2.6" fill="#5c5cf2"/>
<circle cx="590.78" cy="242.41" r="2.6" fill="#5c5cf2"/>
<circle cx="592.38" cy="236.82" r="2.6" fill="#5c5cf2"/>
<circle cx="593.99" cy="238.35" r="2.6" fill="#5c5cf2"/>
<circle cx="595.59" cy="250.02" r="2.6" fill="#5c5cf2"/>
<circle cx="597.20" cy="252.56" r="2.6" fill="#5c5cf2"/>
<circle cx="598.80" cy="251.04" r="2.6" fill="#5c5cf2"/>
<circle cx="600.41" cy="249.01" r="2.6" fill="#5c5cf2"/>
<circle cx="602.01" cy="244.44" r="2.6" fill="#5c5cf2"/>
<circle cx="603.62" cy="252.56" r="2.6" fill="#5c5cf2"/>
<circle cx="605.22" cy="253.07" r="2.6" fill="#5c5cf2"/>
<circle cx="606.82" cy="253.58" r="2.6" fill="#5c5cf2"/>
<circle cx="608.43" cy="254.08" r="2.6" fill="#5c5cf2"/>
<circle cx="610.03" cy="251.55" r="2.6" fill="#5c5cf2"/>
<circle cx="613.24" cy="253.58" r="2.6" fill="#5c5cf2"/>
<circle cx="618.06" cy="253.58" r="2.6" fill="#5c5cf2"/>
<circle cx="626.08" cy="253.58" r="2.6" fill="#5c5cf2"/>
<path d="M565.10 259.16 C565.37 260.52 566.17 264.58 566.71 267.28 C567.24 269.99 567.78 272.78 568.31 275.41 C568.85 278.03 569.52 283.45 569.92 283.02 C570.32 282.60 570.45 272.45 570.72 272.87 C570.99 273.29 571.12 284.72 571.52 285.56 C571.92 286.41 572.59 277.10 573.13 277.95 C573.66 278.79 574.33 291.06 574.73 290.64 C575.13 290.22 575.27 273.97 575.53 275.41 C575.80 276.85 575.93 304.26 576.34 299.27 C576.74 294.28 577.41 259.16 577.94 245.45 C578.47 231.75 579.01 218.88 579.54 217.02 C580.08 215.16 580.61 234.45 581.15 234.28 C581.68 234.12 582.22 217.61 582.75 216.01 C583.29 214.40 583.82 222.35 584.36 224.64 C584.89 226.92 585.43 228.78 585.96 229.72 C586.50 230.65 587.03 228.11 587.57 230.22 C588.10 232.34 588.64 239.53 589.17 242.41 C589.71 245.28 590.24 246.22 590.78 247.48 C591.31 248.75 591.85 249.43 592.38 250.02 C592.92 250.62 593.45 250.62 593.99 251.04 C594.52 251.46 595.06 252.14 595.59 252.56 C596.13 252.98 596.66 253.41 597.20 253.58 C597.73 253.75 598.27 253.55 598.80 253.58 C599.34 253.61 599.87 253.70 600.41 253.76 C600.94 253.81 601.48 253.86 602.01 253.91 C602.55 253.96 603.08 254.01 603.62 254.05 C604.15 254.10 604.69 254.14 605.22 254.18 C605.75 254.21 606.29 254.25 606.82 254.28 C607.36 254.32 607.89 254.35 608.43 254.38 C608.96 254.41 609.50 254.44 610.03 254.47 C610.57 254.49 611.10 254.52 611.64 254.54 C612.17 254.56 612.71 254.58 613.24 254.61 C613.78 254.63 614.31 254.65 614.85 254.66 C615.38 254.68 615.92 254.70 616.45 254.71 C616.99 254.73 617.52 254.75 618.06 254.76 C618.59 254.77 619.13 254.79 619.66 254.80 C620.20 254.81 620.73 254.82 621.27 254.84 C621.80 254.85 622.34 254.86 622.87 254.87 C623.41 254.88 623.94 254.89 624.48 254.89 C625.01 254.90 625.55 254.91 626.08 254.92 C626.62 254.93 627.15 254.93 627.69 254.94 C628.22 254.95 628.76 254.95 629.29 254.96 C629.83 254.96 630.36 254.97 630.90 254.97 C631.43 254.98 631.96 254.99 632.50 254.99 C633.03 254.99 633.57 255.00 634.10 255.00 C634.64 255.01 635.17 255.01 635.71 255.01 C636.24 255.02 636.78 255.02 637.31 255.02 C637.85 255.03 638.38 255.03 638.92 255.03 C639.45 255.04 639.99 255.04 640.52 255.04 C641.06 255.04 641.59 255.05 642.13 255.05 C642.66 255.05 643.20 255.05 643.73 255.05 C644.27 255.06 644.80 255.06 645.34 255.06 C645.87 255.06 646.41 255.06 646.94 255.06 C647.48 255.07 648.01 255.07 648.55 255.07 C649.08 255.07 649.62 255.07 650.15 255.07 C650.69 255.07 651.22 255.07 651.76 255.08 C652.29 255.08 652.83 255.08 653.36 255.08 C653.90 255.08 654.43 255.08 654.97 255.08 C655.50 255.08 656.04 255.08 656.57 255.08 C657.11 255.08 656.57 255.08 658.17 255.09 C659.78 255.09 663.52 255.10 666.20 255.10 C668.87 255.10 671.55 255.10 674.22 255.10 C676.90 255.10 679.57 255.10 682.25 255.10 C684.92 255.10 687.59 255.10 690.27 255.10 C692.94 255.10 695.62 255.10 698.29 255.10 C700.97 255.10 703.64 255.10 706.32 255.10 C708.99 255.10 711.67 255.10 714.34 255.10 C717.01 255.10 719.69 255.10 722.36 255.10 C725.04 255.10 727.71 255.10 730.39 255.10 C733.06 255.10 737.07 255.10 738.41 255.10" fill="none" stroke="#f05c5c" stroke-width="1.3" stroke-linejoin="round"/>
<circle cx="565.10" cy="259.16" r="2.6" fill="#f05c5c"/>
<circle cx="566.71" cy="267.28" r="2.6" fill="#f05c5c"/>
<circle cx="568.31" cy="275.41" r="2.6" fill="#f05c5c"/>
<circle cx="569.92" cy="283.02" r="2.6" fill="#f05c5c"/>
<circle cx="570.72" cy="272.87" r="2.6" fill="#f05c5c"/>
<circle cx="571.52" cy="285.56" r="2.6" fill="#f05c5c"/>
<circle cx="573.13" cy="277.95" r="2.6" fill="#f05c5c"/>
<circle cx="574.73" cy="290.64" r="2.6" fill="#f05c5c"/>
<circle cx="575.53" cy="275.41" r="2.6" fill="#f05c5c"/>
<circle cx="576.34" cy="299.27" r="2.6" fill="#f05c5c"/>
<circle cx="577.94" cy="245.45" r="2.6" fill="#f05c5c"/>
<circle cx="579.54" cy="217.02" r="2.6" fill="#f05c5c"/>
<circle cx="581.15" cy="234.28" r="2.6" fill="#f05c5c"/>
<circle cx="582.75" cy="216.01" r="2.6" fill="#f05c5c"/>
<circle cx="584.36" cy="224.64" r="2.6" fill="#f05c5c"/>
<circle cx="585.96" cy="229.72" r="2.6" fill="#f05c5c"/>
<circle cx="587.57" cy="230.22" r="2.6" fill="#f05c5c"/>
<circle cx="589.17" cy="242.41" r="2.6" fill="#f05c5c"/>
<circle cx="590.78" cy="247.48" r="2.6" fill="#f05c5c"/>
<circle cx="592.38" cy="250.02" r="2.6" fill="#f05c5c"/>
<circle cx="593.99" cy="251.04" r="2.6" fill="#f05c5c"/>
<circle cx="595.59" cy="252.56" r="2.6" fill="#f05c5c"/>
<circle cx="597.20" cy="253.58" r="2.6" fill="#f05c5c"/>
<circle cx="598.80" cy="253.58" r="2.6" fill="#f05c5c"/>
<circle cx="600.41" cy="253.76" r="2.6" fill="#f05c5c"/>
<circle cx="602.01" cy="253.91" r="2.6" fill="#f05c5c"/>
<circle cx="603.62" cy="254.05" r="2.6" fill="#f05c5c"/>
<circle cx="605.22" cy="254.18" r="2.6" fill="#f05c5c"/>
<circle cx="606.82" cy="254.28" r="2.6" fill="#f05c5c"/>
<circle cx="608.43" cy="254.38" r="2.6" fill="#f05c5c"/>
<circle cx="610.03" cy="254.47" r="2.6" fill="#f05c5c"/>
<circle cx="611.64" cy="254.54" r="2.6" fill="#f05c5c"/>
<circle cx="613.24" cy="254.61" r="2.6" fill="#f05c5c"/>
<circle cx="614.85" cy="254.66" r="2.6" fill="#f05c5c"/>
<circle cx="616.45" cy="254.71" r="2.6" fill="#f05c5c"/>
<circle cx="618.06" cy="254.76" r="2.6" fill="#f05c5c"/>
<circle cx="619.66" cy="254.80" r="2.6" fill="#f05c5c"/>
<circle cx="621.27" cy="254.84" r="2.6" fill="#f05c5c"/>
<circle cx="622.87" cy="254.87" r="2.6" fill="#f05c5c"/>
<circle cx="624.48" cy="254.89" r="2.6" fill="#f05c5c"/>
<circle cx="626.08" cy="254.92" r="2.6" fill="#f05c5c"/>
<circle cx="627.69" cy="254.94" r="2.6" fill="#f05c5c"/>
<circle cx="629.29" cy="254.96" r="2.6" fill="#f05c5c"/>
<circle cx="630.90" cy="254.97" r="2.6" fill="#f05c5c"/>
<circle cx="632.50" cy="254.99" r="2.6" fill="#f05c5c"/>
<circle cx="634.10" cy="255.00" r="2.6" fill="#f05c5c"/>
<circle cx="635.71" cy="255.01" r="2.6" fill="#f05c5c"/>
<circle cx="637.31" cy="255.02" r="2.6" fill="#f05c5c"/>
<circle cx="638.92" cy="255.03" r="2.6" fill="#f05c5c"/>
<circle cx="640.52" cy="255.04" r="2.6" fill="#f05c5c"/>
<circle cx="642.13" cy="255.05" r="2.6" fill="#f05c5c"/>
<circle cx="643.73" cy="255.05" r="2.6" fill="#f05c5c"/>
<circle cx="645.34" cy="255.06" r="2.6" fill="#f05c5c"/>
<circle cx="646.94" cy="255.06" r="2.6" fill="#f05c5c"/>
<circle cx="648.55" cy="255.07" r="2.6" fill="#f05c5c"/>
<circle cx="650.15" cy="255.07" r="2.6" fill="#f05c5c"/>
<circle cx="651.76" cy="255.08" r="2.6" fill="#f05c5c"/>
<circle cx="653.36" cy="255.08" r="2.6" fill="#f05c5c"/>
<circle cx="654.97" cy="255.08" r="2.6" fill="#f05c5c"/>
<circle cx="656.57" cy="255.08" r="2.6" fill="#f05c5c"/>
<circle cx="658.17" cy="255.09" r="2.6" fill="#f05c5c"/>
<circle cx="666.20" cy="255.10" r="2.6" fill="#f05c5c"/>
<circle cx="674.22" cy="255.10" r="2.6" fill="#f05c5c"/>
<circle cx="682.25" cy="255.10" r="2.6" fill="#f05c5c"/>
<circle cx="690.27" cy="255.10" r="2.6" fill="#f05c5c"/>
<circle cx="698.29" cy="255.10" r="2.6" fill="#f05c5c"/>
<circle cx="706.32" cy="255.10" r="2.6" fill="#f05c5c"/>
<circle cx="714.34" cy="255.10" r="2.6" fill="#f05c5c"/>
<circle cx="722.36" cy="255.10" r="2.6" fill="#f05c5c"/>
<circle cx="730.39" cy="255.10" r="2.6" fill="#f05c5c"/>
<circle cx="738.41" cy="255.10" r="2.6" fill="#f05c5c"/>
</g>
<path d="M577.6 194.5V391" stroke="#8f7038" stroke-width="1"/>
<text x="182.0" y="209.92999999999998" font-family="Liberation Sans" font-size="13.3" font-weight="normal" fill="#c6c9cf" text-anchor="end" letter-spacing="0.55">100</text>
<text x="182.0" y="235.315" font-family="Liberation Sans" font-size="13.3" font-weight="normal" fill="#c6c9cf" text-anchor="end" letter-spacing="0.55">50</text>
<text x="182.0" y="260.7" font-family="Liberation Sans" font-size="13.3" font-weight="normal" fill="#c6c9cf" text-anchor="end" letter-spacing="0.55">0</text>
<text x="182.0" y="286.08500000000004" font-family="Liberation Sans" font-size="13.3" font-weight="normal" fill="#c6c9cf" text-anchor="end" letter-spacing="0.55">-50</text>
<text x="182.0" y="311.47" font-family="Liberation Sans" font-size="13.3" font-weight="normal" fill="#c6c9cf" text-anchor="end" letter-spacing="0.55">-100</text>
<text x="182.0" y="336.855" font-family="Liberation Sans" font-size="13.3" font-weight="normal" fill="#c6c9cf" text-anchor="end" letter-spacing="0.55">-150</text>
<text x="182.0" y="362.24" font-family="Liberation Sans" font-size="13.3" font-weight="normal" fill="#c6c9cf" text-anchor="end" letter-spacing="0.55">-200</text>
<text x="182.0" y="387.625" font-family="Liberation Sans" font-size="13.3" font-weight="normal" fill="#c6c9cf" text-anchor="end" letter-spacing="0.55">-250</text>
<text x="257.3" y="412.2" font-family="Liberation Sans" font-size="13.3" font-weight="normal" fill="#c6c9cf" text-anchor="middle" letter-spacing="0.55">400</text>
<text x="337.535" y="412.2" font-family="Liberation Sans" font-size="13.3" font-weight="normal" fill="#c6c9cf" text-anchor="middle" letter-spacing="0.55">450</text>
<text x="417.77000000000004" y="412.2" font-family="Liberation Sans" font-size="13.3" font-weight="normal" fill="#c6c9cf" text-anchor="middle" letter-spacing="0.55">500</text>
<text x="498.00500000000005" y="412.2" font-family="Liberation Sans" font-size="13.3" font-weight="normal" fill="#c6c9cf" text-anchor="middle" letter-spacing="0.55">550</text>
<text x="578.24" y="412.2" font-family="Liberation Sans" font-size="13.3" font-weight="normal" fill="#c6c9cf" text-anchor="middle" letter-spacing="0.55">600</text>
<text x="658.4749999999999" y="412.2" font-family="Liberation Sans" font-size="13.3" font-weight="normal" fill="#c6c9cf" text-anchor="middle" letter-spacing="0.55">650</text>
<text x="738.71" y="412.2" font-family="Liberation Sans" font-size="13.3" font-weight="normal" fill="#c6c9cf" text-anchor="middle" letter-spacing="0.55">700</text>
<text x="477.3" y="430" font-family="Liberation Sans" font-size="12.8" font-weight="normal" fill="#c6c9cf" text-anchor="middle" textLength="37.4" lengthAdjust="spacingAndGlyphs" >Strike</text>
<text transform="translate(144.2,292.5) rotate(-90)" x="0" y="0" font-family="Liberation Sans" font-size="13" fill="#c6c9cf" text-anchor="middle" textLength="112" lengthAdjust="spacingAndGlyphs">Gamma Exposure</text>
<path d="M351 451.5h13.3" stroke="#f05c5c" stroke-width="1.3"/>
<circle cx="357.8" cy="451.5" r="2.7" fill="#f05c5c"/>
<text x="368.4" y="455.8" font-family="Liberation Sans" font-size="13" font-weight="normal" fill="#eceef2" text-anchor="start" textLength="76.4" lengthAdjust="spacingAndGlyphs" >2025-06-10</text>
<path d="M451 451.5h13.3" stroke="#5c5cf2" stroke-width="1.3"/>
<circle cx="457.8" cy="451.5" r="2.7" fill="#5c5cf2"/>
<text x="467.5" y="455.8" font-family="Liberation Sans" font-size="13" font-weight="normal" fill="#eceef2" text-anchor="start" textLength="76.4" lengthAdjust="spacingAndGlyphs" >2025-06-13</text>
<rect x="580.2" y="197.9" width="49.7" height="16" fill="#c98f22"/>
<text x="605" y="209.8" font-family="Liberation Sans" font-size="12.5" font-weight="bold" fill="#2b1c08" text-anchor="middle" textLength="47" lengthAdjust="spacingAndGlyphs" >599.68</text>
<text x="1040.5" y="180.7" font-family="Liberation Sans" font-size="16" font-weight="bold" fill="#e6a23c" text-anchor="start" textLength="125.7" lengthAdjust="spacingAndGlyphs" >Vanna Exposure</text>
<clipPath id="cv"><rect x="860" y="194" width="560" height="197"/></clipPath>
<path d="M925.2 194V391 M1003.4 194V391 M1081.5 194V391 M1159.7 194V391 M1237.9 194V391 M1316.1 194V391 M1394.2 194V391 M860 380.6H1419.6 M860 335.3H1419.6 M860 290.0H1419.6 M860 244.7H1419.6 M860 199.4H1419.6" stroke="#21273a" stroke-width="1" stroke-dasharray="1.5 2.1" fill="none"/>
<path d="M857.5 194V391 M860 394.5H1419.6" stroke="#666c7a" stroke-width="1" fill="none"/>
<path d="M925.2 394.5v2.8 M1003.4 394.5v2.8 M1081.5 394.5v2.8 M1159.7 394.5v2.8 M1237.9 394.5v2.8 M1316.1 394.5v2.8 M1394.2 394.5v2.8 M857.5 380.6h-2.6 M857.5 335.3h-2.6 M857.5 290.0h-2.6 M857.5 244.7h-2.6 M857.5 199.4h-2.6" stroke="#666c7a" stroke-width="1" fill="none"/>
<g clip-path="url(#cv)">
<path d="M886.11 380.60 C887.42 380.60 891.32 380.60 893.93 380.60 C896.54 380.60 899.14 380.60 901.75 380.60 C904.35 380.60 906.96 380.60 909.57 380.60 C912.17 380.60 914.78 380.60 917.38 380.60 C919.99 380.60 922.59 380.60 925.20 380.60 C927.81 380.60 930.41 380.60 933.02 380.60 C935.62 380.60 938.23 380.60 940.84 380.60 C943.44 380.60 946.05 380.60 948.65 380.60 C951.26 380.60 953.86 380.60 956.47 380.60 C959.08 380.60 961.68 380.60 964.29 380.60 C966.89 380.60 969.50 381.36 972.11 380.60 C974.71 379.85 977.32 376.07 979.92 376.07 C982.53 376.07 985.13 379.85 987.74 380.60 C990.35 381.36 993.73 380.15 995.56 380.60 C997.38 381.05 997.38 381.96 998.68 383.32 C999.99 384.68 1001.81 385.43 1003.38 388.75 C1004.94 392.08 1005.98 399.32 1008.07 403.25 C1010.15 407.18 1013.54 413.82 1015.88 412.31 C1018.23 410.80 1020.57 399.02 1022.14 394.19 C1023.70 389.36 1024.48 385.58 1025.26 383.32 C1026.05 381.05 1025.26 385.19 1026.83 380.60 C1028.39 376.01 1032.04 355.78 1034.64 355.78 C1037.25 355.78 1040.64 376.01 1042.46 380.60 C1044.29 385.19 1044.29 383.32 1045.59 383.32 C1046.89 383.32 1048.20 381.05 1050.28 380.60 C1052.36 380.15 1055.49 380.60 1058.10 380.60 C1060.70 380.60 1063.31 380.60 1065.91 380.60 C1068.52 380.60 1071.13 380.60 1073.73 380.60 C1076.34 380.60 1078.94 383.36 1081.55 380.60 C1084.16 377.84 1086.76 364.02 1089.37 364.02 C1091.97 364.02 1094.58 377.84 1097.18 380.60 C1099.79 383.36 1102.40 380.75 1105.00 380.60 C1107.61 380.45 1110.21 380.60 1112.82 379.69 C1115.43 378.79 1118.03 374.83 1120.64 375.16 C1123.24 375.50 1126.89 380.75 1128.45 381.72 C1130.02 382.70 1129.50 381.43 1130.02 381.02 C1130.54 380.61 1131.06 379.47 1131.58 379.27 C1132.10 379.06 1132.62 379.42 1133.15 379.79 C1133.67 380.16 1134.19 381.27 1134.71 381.49 C1135.23 381.71 1135.75 381.11 1136.27 381.11 C1136.79 381.10 1137.45 381.32 1137.84 381.47 C1138.23 381.61 1138.36 382.30 1138.62 381.98 C1138.88 381.66 1139.01 379.67 1139.40 379.54 C1139.79 379.41 1140.57 381.09 1140.96 381.19 C1141.35 381.28 1141.48 380.22 1141.74 380.10 C1142.01 379.97 1142.14 380.25 1142.53 380.42 C1142.92 380.58 1143.70 381.25 1144.09 381.08 C1144.48 380.91 1144.61 379.38 1144.87 379.40 C1145.13 379.42 1145.26 381.14 1145.65 381.20 C1146.04 381.27 1146.83 379.72 1147.22 379.77 C1147.61 379.83 1147.74 381.46 1148.00 381.55 C1148.26 381.65 1148.39 380.46 1148.78 380.34 C1149.17 380.23 1149.95 380.78 1150.34 380.87 C1150.73 380.97 1150.87 381.28 1151.13 380.93 C1151.39 380.58 1151.52 379.06 1151.91 378.78 C1152.30 378.49 1153.08 378.87 1153.47 379.20 C1153.86 379.52 1153.99 380.77 1154.25 380.73 C1154.51 380.69 1154.64 378.94 1155.03 378.94 C1155.43 378.94 1156.21 380.50 1156.60 380.73 C1156.99 380.97 1157.12 380.63 1157.38 380.33 C1157.64 380.03 1157.77 379.09 1158.16 378.95 C1158.55 378.81 1159.33 379.09 1159.72 379.49 C1160.12 379.89 1160.25 381.89 1160.51 381.32 C1160.77 380.75 1160.90 376.19 1161.29 376.07 C1161.68 375.95 1162.46 379.81 1162.85 380.58 C1163.24 381.35 1163.37 380.94 1163.63 380.68 C1163.89 380.42 1164.02 379.11 1164.42 379.03 C1164.81 378.94 1165.59 379.95 1165.98 380.20 C1166.37 380.44 1166.50 381.08 1166.76 380.47 C1167.02 379.86 1167.15 376.47 1167.54 376.52 C1167.93 376.57 1168.72 380.30 1169.11 380.77 C1169.50 381.24 1169.63 380.14 1169.89 379.36 C1170.15 378.57 1170.28 376.08 1170.67 376.07 C1171.06 376.06 1171.84 378.65 1172.23 379.31 C1172.62 379.97 1172.75 379.99 1173.01 380.05 C1173.28 380.11 1173.41 379.97 1173.80 379.68 C1174.19 379.38 1174.97 378.28 1175.36 378.26 C1175.75 378.25 1175.88 379.40 1176.14 379.57 C1176.40 379.74 1176.53 380.76 1176.92 379.27 C1177.31 377.78 1178.10 370.41 1178.49 370.63 C1178.88 370.85 1179.01 380.14 1179.27 380.59 C1179.53 381.04 1179.66 373.74 1180.05 373.35 C1180.44 372.96 1181.22 377.45 1181.61 378.26 C1182.00 379.07 1182.14 379.64 1182.40 378.22 C1182.66 376.79 1182.79 370.99 1183.18 369.73 C1183.57 368.46 1184.35 369.18 1184.74 370.63 C1185.13 372.08 1185.39 376.16 1185.52 378.43 C1185.52 380.69 1185.52 384.28 1185.52 384.22 C1185.65 384.16 1185.91 380.93 1186.30 378.06 C1186.70 375.19 1187.48 367.09 1187.87 367.01 C1188.26 366.93 1188.52 374.72 1188.65 377.59 C1188.65 380.46 1188.65 385.53 1188.65 384.22 C1188.78 382.91 1189.04 381.23 1189.43 369.73 C1189.82 358.22 1190.47 314.13 1190.99 315.19 C1191.52 316.24 1192.04 365.77 1192.56 376.07 C1193.08 386.37 1193.60 377.43 1194.12 376.98 C1194.64 376.52 1195.16 374.56 1195.69 373.35 C1196.21 372.14 1196.73 372.99 1197.25 369.73 C1197.77 366.47 1198.29 354.08 1198.81 353.78 C1199.33 353.48 1199.85 365.26 1200.38 367.92 C1200.90 370.57 1201.42 370.33 1201.94 369.73 C1202.46 369.12 1202.98 360.22 1203.50 364.29 C1204.02 368.37 1204.55 409.59 1205.07 394.19 C1205.59 378.79 1206.11 271.88 1206.63 271.88 C1207.15 271.88 1207.67 378.33 1208.19 394.19 C1208.71 410.05 1209.24 370.79 1209.76 367.01 C1210.28 363.24 1210.80 367.01 1211.32 371.54 C1211.84 376.07 1212.36 422.28 1212.88 394.19 C1213.41 366.10 1213.93 203.02 1214.45 203.02 C1214.97 203.02 1215.49 366.86 1216.01 394.19 C1216.53 421.52 1217.05 373.53 1217.57 367.01 C1218.10 360.49 1218.62 355.81 1219.14 355.05 C1219.66 354.30 1220.18 376.34 1220.70 362.48 C1221.22 348.62 1221.74 276.41 1222.27 271.88 C1222.79 267.35 1223.31 320.80 1223.83 335.30 C1224.35 349.80 1224.87 354.63 1225.39 358.86 C1225.91 363.08 1226.43 359.46 1226.96 360.67 C1227.48 361.88 1228.00 370.72 1228.52 366.10 C1229.04 361.48 1229.56 332.04 1230.08 332.94 C1230.60 333.85 1231.12 367.36 1231.65 371.54 C1232.17 375.72 1232.69 357.59 1233.21 358.04 C1233.73 358.49 1234.25 371.10 1234.77 374.26 C1235.29 377.41 1235.82 376.22 1236.34 376.98 C1236.86 377.73 1237.38 377.73 1237.90 378.79 C1238.42 379.85 1238.94 383.77 1239.46 383.32 C1239.98 382.87 1240.51 376.98 1241.03 376.07 C1241.55 375.16 1242.07 378.34 1242.59 377.88 C1243.11 377.43 1243.63 378.47 1244.15 373.35 C1244.68 368.23 1245.20 346.87 1245.72 347.17 C1246.24 347.47 1246.76 370.95 1247.28 375.16 C1247.80 379.38 1248.32 373.65 1248.84 372.45 C1249.37 371.24 1249.89 367.16 1250.41 367.92 C1250.93 368.67 1251.45 378.82 1251.97 376.98 C1252.49 375.13 1253.01 357.47 1253.54 356.86 C1254.06 356.26 1254.58 370.15 1255.10 373.35 C1255.62 376.55 1256.14 376.83 1256.66 376.07 C1257.18 375.32 1257.44 371.49 1258.23 368.82 C1259.01 366.15 1260.57 358.67 1261.35 360.03 C1262.13 361.39 1262.13 374.00 1262.92 376.98 C1263.70 379.95 1265.00 378.92 1266.04 377.88 C1267.09 376.84 1268.13 371.18 1269.17 370.72 C1270.21 370.27 1270.99 374.33 1272.30 375.16 C1273.60 375.99 1274.90 375.62 1276.99 375.71 C1279.07 375.80 1283.50 375.71 1284.81 375.71" fill="none" stroke="#5c5cf2" stroke-width="1.3" stroke-linejoin="round"/>
<circle cx="886.11" cy="380.60" r="2.6" fill="#5c5cf2"/>
<circle cx="893.93" cy="380.60" r="2.6" fill="#5c5cf2"/>
<circle cx="901.75" cy="380.60" r="2.6" fill="#5c5cf2"/>
<circle cx="909.57" cy="380.60" r="2.6" fill="#5c5cf2"/>
<circle cx="917.38" cy="380.60" r="2.6" fill="#5c5cf2"/>
<circle cx="925.20" cy="380.60" r="2.6" fill="#5c5cf2"/>
<circle cx="933.02" cy="380.60" r="2.6" fill="#5c5cf2"/>
<circle cx="940.84" cy="380.60" r="2.6" fill="#5c5cf2"/>
<circle cx="948.65" cy="380.60" r="2.6" fill="#5c5cf2"/>
<circle cx="956.47" cy="380.60" r="2.6" fill="#5c5cf2"/>
<circle cx="964.29" cy="380.60" r="2.6" fill="#5c5cf2"/>
<circle cx="972.11" cy="380.60" r="2.6" fill="#5c5cf2"/>
<circle cx="979.92" cy="376.07" r="2.6" fill="#5c5cf2"/>
<circle cx="987.74" cy="380.60" r="2.6" fill="#5c5cf2"/>
<circle cx="995.56" cy="380.60" r="2.6" fill="#5c5cf2"/>
<circle cx="1026.83" cy="380.60" r="2.6" fill="#5c5cf2"/>
<circle cx="1034.64" cy="355.78" r="2.6" fill="#5c5cf2"/>
<circle cx="1042.46" cy="380.60" r="2.6" fill="#5c5cf2"/>
<circle cx="1050.28" cy="380.60" r="2.6" fill="#5c5cf2"/>
<circle cx="1058.10" cy="380.60" r="2.6" fill="#5c5cf2"/>
<circle cx="1065.91" cy="380.60" r="2.6" fill="#5c5cf2"/>
<circle cx="1073.73" cy="380.60" r="2.6" fill="#5c5cf2"/>
<circle cx="1081.55" cy="380.60" r="2.6" fill="#5c5cf2"/>
<circle cx="1089.37" cy="364.02" r="2.6" fill="#5c5cf2"/>
<circle cx="1097.18" cy="380.60" r="2.6" fill="#5c5cf2"/>
<circle cx="1105.00" cy="380.60" r="2.6" fill="#5c5cf2"/>
<circle cx="1112.82" cy="379.69" r="2.6" fill="#5c5cf2"/>
<circle cx="1120.64" cy="375.16" r="2.6" fill="#5c5cf2"/>
<circle cx="1128.45" cy="381.72" r="2.6" fill="#5c5cf2"/>
<circle cx="1130.02" cy="381.02" r="2.6" fill="#5c5cf2"/>
<circle cx="1131.58" cy="379.27" r="2.6" fill="#5c5cf2"/>
<circle cx="1133.15" cy="379.79" r="2.6" fill="#5c5cf2"/>
<circle cx="1134.71" cy="381.49" r="2.6" fill="#5c5cf2"/>
<circle cx="1136.27" cy="381.11" r="2.6" fill="#5c5cf2"/>
<circle cx="1137.84" cy="381.47" r="2.6" fill="#5c5cf2"/>
<circle cx="1138.62" cy="381.98" r="2.6" fill="#5c5cf2"/>
<circle cx="1139.40" cy="379.54" r="2.6" fill="#5c5cf2"/>
<circle cx="1140.96" cy="381.19" r="2.6" fill="#5c5cf2"/>
<circle cx="1141.74" cy="380.10" r="2.6" fill="#5c5cf2"/>
<circle cx="1142.53" cy="380.42" r="2.6" fill="#5c5cf2"/>
<circle cx="1144.09" cy="381.08" r="2.6" fill="#5c5cf2"/>
<circle cx="1144.87" cy="379.40" r="2.6" fill="#5c5cf2"/>
<circle cx="1145.65" cy="381.20" r="2.6" fill="#5c5cf2"/>
<circle cx="1147.22" cy="379.77" r="2.6" fill="#5c5cf2"/>
<circle cx="1148.00" cy="381.55" r="2.6" fill="#5c5cf2"/>
<circle cx="1148.78" cy="380.34" r="2.6" fill="#5c5cf2"/>
<circle cx="1150.34" cy="380.87" r="2.6" fill="#5c5cf2"/>
<circle cx="1151.13" cy="380.93" r="2.6" fill="#5c5cf2"/>
<circle cx="1151.91" cy="378.78" r="2.6" fill="#5c5cf2"/>
<circle cx="1153.47" cy="379.20" r="2.6" fill="#5c5cf2"/>
<circle cx="1154.25" cy="380.73" r="2.6" fill="#5c5cf2"/>
<circle cx="1155.03" cy="378.94" r="2.6" fill="#5c5cf2"/>
<circle cx="1156.60" cy="380.73" r="2.6" fill="#5c5cf2"/>
<circle cx="1157.38" cy="380.33" r="2.6" fill="#5c5cf2"/>
<circle cx="1158.16" cy="378.95" r="2.6" fill="#5c5cf2"/>
<circle cx="1159.72" cy="379.49" r="2.6" fill="#5c5cf2"/>
<circle cx="1160.51" cy="381.32" r="2.6" fill="#5c5cf2"/>
<circle cx="1161.29" cy="376.07" r="2.6" fill="#5c5cf2"/>
<circle cx="1162.85" cy="380.58" r="2.6" fill="#5c5cf2"/>
<circle cx="1163.63" cy="380.68" r="2.6" fill="#5c5cf2"/>
<circle cx="1164.42" cy="379.03" r="2.6" fill="#5c5cf2"/>
<circle cx="1165.98" cy="380.20" r="2.6" fill="#5c5cf2"/>
<circle cx="1166.76" cy="380.47" r="2.6" fill="#5c5cf2"/>
<circle cx="1167.54" cy="376.52" r="2.6" fill="#5c5cf2"/>
<circle cx="1169.11" cy="380.77" r="2.6" fill="#5c5cf2"/>
<circle cx="1169.89" cy="379.36" r="2.6" fill="#5c5cf2"/>
<circle cx="1170.67" cy="376.07" r="2.6" fill="#5c5cf2"/>
<circle cx="1172.23" cy="379.31" r="2.6" fill="#5c5cf2"/>
<circle cx="1173.01" cy="380.05" r="2.6" fill="#5c5cf2"/>
<circle cx="1173.80" cy="379.68" r="2.6" fill="#5c5cf2"/>
<circle cx="1175.36" cy="378.26" r="2.6" fill="#5c5cf2"/>
<circle cx="1176.14" cy="379.57" r="2.6" fill="#5c5cf2"/>
<circle cx="1176.92" cy="379.27" r="2.6" fill="#5c5cf2"/>
<circle cx="1178.49" cy="370.63" r="2.6" fill="#5c5cf2"/>
<circle cx="1179.27" cy="380.59" r="2.6" fill="#5c5cf2"/>
<circle cx="1180.05" cy="373.35" r="2.6" fill="#5c5cf2"/>
<circle cx="1181.61" cy="378.26" r="2.6" fill="#5c5cf2"/>
<circle cx="1182.40" cy="378.22" r="2.6" fill="#5c5cf2"/>
<circle cx="1183.18" cy="369.73" r="2.6" fill="#5c5cf2"/>
<circle cx="1184.74" cy="370.63" r="2.6" fill="#5c5cf2"/>
<circle cx="1185.52" cy="378.43" r="2.6" fill="#5c5cf2"/>
<circle cx="1186.30" cy="378.06" r="2.6" fill="#5c5cf2"/>
<circle cx="1187.87" cy="367.01" r="2.6" fill="#5c5cf2"/>
<circle cx="1188.65" cy="377.59" r="2.6" fill="#5c5cf2"/>
<circle cx="1189.43" cy="369.73" r="2.6" fill="#5c5cf2"/>
<circle cx="1190.99" cy="315.19" r="2.6" fill="#5c5cf2"/>
<circle cx="1192.56" cy="376.07" r="2.6" fill="#5c5cf2"/>
<circle cx="1194.12" cy="376.98" r="2.6" fill="#5c5cf2"/>
<circle cx="1195.69" cy="373.35" r="2.6" fill="#5c5cf2"/>
<circle cx="1197.25" cy="369.73" r="2.6" fill="#5c5cf2"/>
<circle cx="1198.81" cy="353.78" r="2.6" fill="#5c5cf2"/>
<circle cx="1200.38" cy="367.92" r="2.6" fill="#5c5cf2"/>
<circle cx="1201.94" cy="369.73" r="2.6" fill="#5c5cf2"/>
<circle cx="1203.50" cy="364.29" r="2.6" fill="#5c5cf2"/>
<circle cx="1206.63" cy="271.88" r="2.6" fill="#5c5cf2"/>
<circle cx="1209.76" cy="367.01" r="2.6" fill="#5c5cf2"/>
<circle cx="1211.32" cy="371.54" r="2.6" fill="#5c5cf2"/>
<circle cx="1214.45" cy="203.02" r="2.6" fill="#5c5cf2"/>
<circle cx="1217.57" cy="367.01" r="2.6" fill="#5c5cf2"/>
<circle cx="1219.14" cy="355.05" r="2.6" fill="#5c5cf2"/>
<circle cx="1220.70" cy="362.48" r="2.6" fill="#5c5cf2"/>
<circle cx="1222.27" cy="271.88" r="2.6" fill="#5c5cf2"/>
<circle cx="1223.83" cy="335.30" r="2.6" fill="#5c5cf2"/>
<circle cx="1225.39" cy="358.86" r="2.6" fill="#5c5cf2"/>
<circle cx="1226.96" cy="360.67" r="2.6" fill="#5c5cf2"/>
<circle cx="1228.52" cy="366.10" r="2.6" fill="#5c5cf2"/>
<circle cx="1230.08" cy="332.94" r="2.6" fill="#5c5cf2"/>
<circle cx="1231.65" cy="371.54" r="2.6" fill="#5c5cf2"/>
<circle cx="1233.21" cy="358.04" r="2.6" fill="#5c5cf2"/>
<circle cx="1234.77" cy="374.26" r="2.6" fill="#5c5cf2"/>
<circle cx="1236.34" cy="376.98" r="2.6" fill="#5c5cf2"/>
<circle cx="1237.90" cy="378.79" r="2.6" fill="#5c5cf2"/>
<circle cx="1239.46" cy="383.32" r="2.6" fill="#5c5cf2"/>
<circle cx="1241.03" cy="376.07" r="2.6" fill="#5c5cf2"/>
<circle cx="1242.59" cy="377.88" r="2.6" fill="#5c5cf2"/>
<circle cx="1244.15" cy="373.35" r="2.6" fill="#5c5cf2"/>
<circle cx="1245.72" cy="347.17" r="2.6" fill="#5c5cf2"/>
<circle cx="1247.28" cy="375.16" r="2.6" fill="#5c5cf2"/>
<circle cx="1248.84" cy="372.45" r="2.6" fill="#5c5cf2"/>
<circle cx="1250.41" cy="367.92" r="2.6" fill="#5c5cf2"/>
<circle cx="1251.97" cy="376.98" r="2.6" fill="#5c5cf2"/>
<circle cx="1253.54" cy="356.86" r="2.6" fill="#5c5cf2"/>
<circle cx="1255.10" cy="373.35" r="2.6" fill="#5c5cf2"/>
<circle cx="1256.66" cy="376.07" r="2.6" fill="#5c5cf2"/>
<circle cx="1258.23" cy="368.82" r="2.6" fill="#5c5cf2"/>
<circle cx="1261.35" cy="360.03" r="2.6" fill="#5c5cf2"/>
<circle cx="1262.92" cy="376.98" r="2.6" fill="#5c5cf2"/>
<circle cx="1266.04" cy="377.88" r="2.6" fill="#5c5cf2"/>
<circle cx="1269.17" cy="370.72" r="2.6" fill="#5c5cf2"/>
<circle cx="1272.30" cy="375.16" r="2.6" fill="#5c5cf2"/>
<circle cx="1276.99" cy="375.71" r="2.6" fill="#5c5cf2"/>
<circle cx="1284.81" cy="375.71" r="2.6" fill="#5c5cf2"/>
<path d="M1226.96 374.62 C1227.22 373.85 1228.00 372.31 1228.52 370.00 C1229.04 367.69 1229.56 361.26 1230.08 360.76 C1230.60 360.26 1231.12 365.47 1231.65 367.01 C1232.17 368.55 1232.69 368.49 1233.21 370.00 C1233.73 371.51 1234.25 374.76 1234.77 376.07 C1235.29 377.38 1235.82 377.28 1236.34 377.88 C1236.86 378.49 1237.38 379.09 1237.90 379.69 C1238.42 380.30 1238.94 381.66 1239.46 381.51 C1239.98 381.36 1240.51 379.85 1241.03 378.79 C1241.55 377.73 1242.07 377.81 1242.59 375.16 C1243.11 372.52 1243.63 364.97 1244.15 362.93 C1244.68 360.89 1245.20 361.50 1245.72 362.93 C1246.24 364.37 1246.76 369.50 1247.28 371.54 C1247.80 373.58 1248.32 375.16 1248.84 375.16 C1249.37 375.16 1249.89 371.69 1250.41 371.54 C1250.93 371.39 1251.45 373.50 1251.97 374.26 C1252.49 375.01 1253.01 375.47 1253.54 376.07 C1254.06 376.67 1254.58 377.43 1255.10 377.88 C1255.62 378.33 1256.14 378.49 1256.66 378.79 C1257.18 379.09 1257.70 379.39 1258.23 379.69 C1258.75 380.00 1259.27 380.45 1259.79 380.60 C1260.31 380.75 1260.83 380.60 1261.35 380.60 C1261.87 380.60 1262.39 380.60 1262.92 380.60 C1263.44 380.60 1263.96 380.60 1264.48 380.60 C1265.00 380.60 1265.52 380.60 1266.04 380.60 C1266.56 380.60 1267.09 380.60 1267.61 380.60 C1268.13 380.60 1268.65 380.60 1269.17 380.60 C1269.69 380.60 1270.21 380.60 1270.73 380.60 C1271.25 380.60 1271.78 380.60 1272.30 380.60 C1272.82 380.60 1273.34 380.60 1273.86 380.60 C1274.38 380.60 1274.90 380.60 1275.42 380.60 C1275.95 380.60 1276.47 380.60 1276.99 380.60 C1277.51 380.60 1278.03 380.60 1278.55 380.60 C1279.07 380.60 1279.59 380.60 1280.11 380.60 C1280.64 380.60 1281.16 380.60 1281.68 380.60 C1282.20 380.60 1282.72 380.60 1283.24 380.60 C1283.76 380.60 1284.28 380.60 1284.81 380.60 C1285.33 380.60 1285.85 380.60 1286.37 380.60 C1286.89 380.60 1287.41 380.60 1287.93 380.60 C1288.45 380.60 1288.97 380.60 1289.50 380.60 C1290.02 380.60 1290.54 380.60 1291.06 380.60 C1291.58 380.60 1292.10 380.60 1292.62 380.60 C1293.14 380.60 1293.66 380.60 1294.19 380.60 C1294.71 380.60 1295.23 380.60 1295.75 380.60 C1296.27 380.60 1296.79 380.60 1297.31 380.60 C1297.83 380.60 1298.36 380.60 1298.88 380.60 C1299.40 380.60 1299.92 380.60 1300.44 380.60 C1300.96 380.60 1301.48 380.60 1302.00 380.60 C1302.52 380.60 1303.05 380.60 1303.57 380.60 C1304.09 380.60 1304.61 380.60 1305.13 380.60 C1305.65 380.60 1306.17 380.60 1306.69 380.60 C1307.22 380.60 1307.74 380.60 1308.26 380.60 C1308.78 380.60 1309.30 380.60 1309.82 380.60 C1310.34 380.60 1310.86 380.60 1311.38 380.60 C1311.91 380.60 1312.43 380.60 1312.95 380.60 C1313.47 380.60 1313.99 380.60 1314.51 380.60 C1315.03 380.60 1314.51 380.60 1316.08 380.60 C1317.64 380.60 1321.29 380.60 1323.89 380.60 C1326.50 380.60 1329.10 380.60 1331.71 380.60 C1334.32 380.60 1336.92 380.60 1339.53 380.60 C1342.13 380.60 1344.74 380.60 1347.35 380.60 C1349.95 380.60 1352.56 380.60 1355.16 380.60 C1357.77 380.60 1360.37 380.60 1362.98 380.60 C1365.59 380.60 1368.19 380.60 1370.80 380.60 C1373.40 380.60 1376.01 380.60 1378.62 380.60 C1381.22 380.60 1383.83 380.60 1386.43 380.60 C1389.04 380.60 1392.95 380.60 1394.25 380.60" fill="none" stroke="#f05c5c" stroke-width="1.3" stroke-linejoin="round"/>
<circle cx="1226.96" cy="374.62" r="2.6" fill="#f05c5c"/>
<circle cx="1228.52" cy="370.00" r="2.6" fill="#f05c5c"/>
<circle cx="1230.08" cy="360.76" r="2.6" fill="#f05c5c"/>
<circle cx="1231.65" cy="367.01" r="2.6" fill="#f05c5c"/>
<circle cx="1233.21" cy="370.00" r="2.6" fill="#f05c5c"/>
<circle cx="1234.77" cy="376.07" r="2.6" fill="#f05c5c"/>
<circle cx="1236.34" cy="377.88" r="2.6" fill="#f05c5c"/>
<circle cx="1237.90" cy="379.69" r="2.6" fill="#f05c5c"/>
<circle cx="1239.46" cy="381.51" r="2.6" fill="#f05c5c"/>
<circle cx="1241.03" cy="378.79" r="2.6" fill="#f05c5c"/>
<circle cx="1242.59" cy="375.16" r="2.6" fill="#f05c5c"/>
<circle cx="1244.15" cy="362.93" r="2.6" fill="#f05c5c"/>
<circle cx="1245.72" cy="362.93" r="2.6" fill="#f05c5c"/>
<circle cx="1247.28" cy="371.54" r="2.6" fill="#f05c5c"/>
<circle cx="1248.84" cy="375.16" r="2.6" fill="#f05c5c"/>
<circle cx="1250.41" cy="371.54" r="2.6" fill="#f05c5c"/>
<circle cx="1251.97" cy="374.26" r="2.6" fill="#f05c5c"/>
<circle cx="1253.54" cy="376.07" r="2.6" fill="#f05c5c"/>
<circle cx="1255.10" cy="377.88" r="2.6" fill="#f05c5c"/>
<circle cx="1256.66" cy="378.79" r="2.6" fill="#f05c5c"/>
<circle cx="1258.23" cy="379.69" r="2.6" fill="#f05c5c"/>
<circle cx="1259.79" cy="380.60" r="2.6" fill="#f05c5c"/>
<circle cx="1261.35" cy="380.60" r="2.6" fill="#f05c5c"/>
<circle cx="1262.92" cy="380.60" r="2.6" fill="#f05c5c"/>
<circle cx="1264.48" cy="380.60" r="2.6" fill="#f05c5c"/>
<circle cx="1266.04" cy="380.60" r="2.6" fill="#f05c5c"/>
<circle cx="1267.61" cy="380.60" r="2.6" fill="#f05c5c"/>
<circle cx="1269.17" cy="380.60" r="2.6" fill="#f05c5c"/>
<circle cx="1270.73" cy="380.60" r="2.6" fill="#f05c5c"/>
<circle cx="1272.30" cy="380.60" r="2.6" fill="#f05c5c"/>
<circle cx="1273.86" cy="380.60" r="2.6" fill="#f05c5c"/>
<circle cx="1275.42" cy="380.60" r="2.6" fill="#f05c5c"/>
<circle cx="1276.99" cy="380.60" r="2.6" fill="#f05c5c"/>
<circle cx="1278.55" cy="380.60" r="2.6" fill="#f05c5c"/>
<circle cx="1280.11" cy="380.60" r="2.6" fill="#f05c5c"/>
<circle cx="1281.68" cy="380.60" r="2.6" fill="#f05c5c"/>
<circle cx="1283.24" cy="380.60" r="2.6" fill="#f05c5c"/>
<circle cx="1284.81" cy="380.60" r="2.6" fill="#f05c5c"/>
<circle cx="1286.37" cy="380.60" r="2.6" fill="#f05c5c"/>
<circle cx="1287.93" cy="380.60" r="2.6" fill="#f05c5c"/>
<circle cx="1289.50" cy="380.60" r="2.6" fill="#f05c5c"/>
<circle cx="1291.06" cy="380.60" r="2.6" fill="#f05c5c"/>
<circle cx="1292.62" cy="380.60" r="2.6" fill="#f05c5c"/>
<circle cx="1294.19" cy="380.60" r="2.6" fill="#f05c5c"/>
<circle cx="1295.75" cy="380.60" r="2.6" fill="#f05c5c"/>
<circle cx="1297.31" cy="380.60" r="2.6" fill="#f05c5c"/>
<circle cx="1298.88" cy="380.60" r="2.6" fill="#f05c5c"/>
<circle cx="1300.44" cy="380.60" r="2.6" fill="#f05c5c"/>
<circle cx="1302.00" cy="380.60" r="2.6" fill="#f05c5c"/>
<circle cx="1303.57" cy="380.60" r="2.6" fill="#f05c5c"/>
<circle cx="1305.13" cy="380.60" r="2.6" fill="#f05c5c"/>
<circle cx="1306.69" cy="380.60" r="2.6" fill="#f05c5c"/>
<circle cx="1308.26" cy="380.60" r="2.6" fill="#f05c5c"/>
<circle cx="1309.82" cy="380.60" r="2.6" fill="#f05c5c"/>
<circle cx="1311.38" cy="380.60" r="2.6" fill="#f05c5c"/>
<circle cx="1312.95" cy="380.60" r="2.6" fill="#f05c5c"/>
<circle cx="1314.51" cy="380.60" r="2.6" fill="#f05c5c"/>
<circle cx="1316.08" cy="380.60" r="2.6" fill="#f05c5c"/>
<circle cx="1323.89" cy="380.60" r="2.6" fill="#f05c5c"/>
<circle cx="1331.71" cy="380.60" r="2.6" fill="#f05c5c"/>
<circle cx="1339.53" cy="380.60" r="2.6" fill="#f05c5c"/>
<circle cx="1347.35" cy="380.60" r="2.6" fill="#f05c5c"/>
<circle cx="1355.16" cy="380.60" r="2.6" fill="#f05c5c"/>
<circle cx="1362.98" cy="380.60" r="2.6" fill="#f05c5c"/>
<circle cx="1370.80" cy="380.60" r="2.6" fill="#f05c5c"/>
<circle cx="1378.62" cy="380.60" r="2.6" fill="#f05c5c"/>
<circle cx="1386.43" cy="380.60" r="2.6" fill="#f05c5c"/>
<circle cx="1394.25" cy="380.60" r="2.6" fill="#f05c5c"/>
</g>
<path d="M1237.9 194.5V391" stroke="#8f7038" stroke-width="1"/>
<text x="852.3" y="386.20000000000005" font-family="Liberation Sans" font-size="13.3" font-weight="normal" fill="#c6c9cf" text-anchor="end" letter-spacing="0.55">0</text>
<text x="852.3" y="340.90000000000003" font-family="Liberation Sans" font-size="13.3" font-weight="normal" fill="#c6c9cf" text-anchor="end" letter-spacing="0.55">5,000</text>
<text x="852.3" y="295.6000000000001" font-family="Liberation Sans" font-size="13.3" font-weight="normal" fill="#c6c9cf" text-anchor="end" letter-spacing="0.55">10,000</text>
<text x="852.3" y="250.30000000000004" font-family="Liberation Sans" font-size="13.3" font-weight="normal" fill="#c6c9cf" text-anchor="end" letter-spacing="0.55">15,000</text>
<text x="852.3" y="205.00000000000006" font-family="Liberation Sans" font-size="13.3" font-weight="normal" fill="#c6c9cf" text-anchor="end" letter-spacing="0.55">20,000</text>
<text x="925.5" y="412.2" font-family="Liberation Sans" font-size="13.3" font-weight="normal" fill="#c6c9cf" text-anchor="middle" letter-spacing="0.55">400</text>
<text x="1003.675" y="412.2" font-family="Liberation Sans" font-size="13.3" font-weight="normal" fill="#c6c9cf" text-anchor="middle" letter-spacing="0.55">450</text>
<text x="1081.85" y="412.2" font-family="Liberation Sans" font-size="13.3" font-weight="normal" fill="#c6c9cf" text-anchor="middle" letter-spacing="0.55">500</text>
<text x="1160.0249999999999" y="412.2" font-family="Liberation Sans" font-size="13.3" font-weight="normal" fill="#c6c9cf" text-anchor="middle" letter-spacing="0.55">550</text>
<text x="1238.2" y="412.2" font-family="Liberation Sans" font-size="13.3" font-weight="normal" fill="#c6c9cf" text-anchor="middle" letter-spacing="0.55">600</text>
<text x="1316.375" y="412.2" font-family="Liberation Sans" font-size="13.3" font-weight="normal" fill="#c6c9cf" text-anchor="middle" letter-spacing="0.55">650</text>
<text x="1394.55" y="412.2" font-family="Liberation Sans" font-size="13.3" font-weight="normal" fill="#c6c9cf" text-anchor="middle" letter-spacing="0.55">700</text>
<text x="1142" y="430" font-family="Liberation Sans" font-size="12.8" font-weight="normal" fill="#c6c9cf" text-anchor="middle" textLength="37.4" lengthAdjust="spacingAndGlyphs" >Strike</text>
<text transform="translate(799.1,292.6) rotate(-90)" x="0" y="0" font-family="Liberation Sans" font-size="13" fill="#c6c9cf" text-anchor="middle" textLength="102.8" lengthAdjust="spacingAndGlyphs">Vanna Exposure</text>
<path d="M1006.5 451.5h13.3" stroke="#f05c5c" stroke-width="1.3"/>
<circle cx="1013.3" cy="451.5" r="2.7" fill="#f05c5c"/>
<text x="1022.5" y="455.8" font-family="Liberation Sans" font-size="13" font-weight="normal" fill="#eceef2" text-anchor="start" textLength="76.4" lengthAdjust="spacingAndGlyphs" >2025-06-10</text>
<path d="M1106 451.5h13.3" stroke="#5c5cf2" stroke-width="1.3"/>
<circle cx="1112.8" cy="451.5" r="2.7" fill="#5c5cf2"/>
<text x="1122" y="455.8" font-family="Liberation Sans" font-size="13" font-weight="normal" fill="#eceef2" text-anchor="start" textLength="76.4" lengthAdjust="spacingAndGlyphs" >2025-06-13</text>
<rect x="1240" y="197.9" width="49.7" height="16" fill="#c98f22"/>
<text x="1264.8" y="209.8" font-family="Liberation Sans" font-size="12.5" font-weight="bold" fill="#2b1c08" text-anchor="middle" textLength="47" lengthAdjust="spacingAndGlyphs" >599.68</text>
<text x="384" y="501.6" font-family="Liberation Sans" font-size="16" font-weight="bold" fill="#e6a23c" text-anchor="start" textLength="127.7" lengthAdjust="spacingAndGlyphs" >Charm Exposure</text>
<clipPath id="cc"><rect x="190" y="514.5" width="575" height="197.5"/></clipPath>
<path d="M257.0 514.5V711.7 M337.2 514.5V711.7 M417.5 514.5V711.7 M497.7 514.5V711.7 M577.9 514.5V711.7 M658.2 514.5V711.7 M738.4 514.5V711.7 M190.5 524.6H764.5 M190.5 550.4H764.5 M190.5 576.2H764.5 M190.5 602.0H764.5 M190.5 627.8H764.5 M190.5 653.6H764.5 M190.5 679.4H764.5 M190.5 705.2H764.5" stroke="#21273a" stroke-width="1" stroke-dasharray="1.5 2.1" fill="none"/>
<path d="M186.5 514.5V711.7 M190.5 715.5H764.5" stroke="#666c7a" stroke-width="1" fill="none"/>
<path d="M257.0 715.5v2.8 M337.2 715.5v2.8 M417.5 715.5v2.8 M497.7 715.5v2.8 M577.9 715.5v2.8 M658.2 715.5v2.8 M738.4 715.5v2.8 M186.5 524.6h-2.6 M186.5 550.4h-2.6 M186.5 576.2h-2.6 M186.5 602.0h-2.6 M186.5 627.8h-2.6 M186.5 653.6h-2.6 M186.5 679.4h-2.6 M186.5 705.2h-2.6" stroke="#666c7a" stroke-width="1" fill="none"/>
<g clip-path="url(#cc)">
<path d="M216.88 525.12 C218.22 525.03 222.23 524.69 224.91 524.60 C227.58 524.51 230.25 524.60 232.93 524.60 C235.60 524.60 238.28 524.60 240.95 524.60 C243.63 524.60 246.30 524.21 248.98 524.60 C251.65 524.99 254.33 526.49 257.00 526.92 C259.67 527.35 262.35 526.97 265.02 527.18 C267.70 527.40 270.37 528.64 273.05 528.21 C275.72 527.78 278.40 525.20 281.07 524.60 C283.75 524.00 286.42 524.51 289.09 524.60 C291.77 524.69 294.98 525.55 297.12 525.12 C299.26 524.69 300.59 522.02 301.93 522.02 C303.27 522.02 303.27 520.09 305.14 525.12 C307.01 530.15 310.49 552.29 313.16 552.21 C315.84 552.12 318.51 528.38 321.19 524.60 C323.86 520.82 327.21 532.08 329.21 529.50 C331.22 526.92 330.55 527.14 333.22 509.12 C335.90 491.10 341.11 421.40 345.26 421.40 C349.40 421.40 355.42 491.92 358.10 509.12 C360.77 526.32 359.43 499.57 361.31 524.60 C363.18 549.63 366.65 659.28 369.33 659.28 C372.00 659.28 375.61 550.49 377.35 524.60 C379.09 498.71 378.82 504.39 379.76 503.96 C380.70 503.53 381.50 517.29 382.97 522.02 C384.44 526.75 386.85 531.48 388.59 532.34 C390.32 533.20 391.26 527.83 393.40 527.18 C395.54 526.54 398.75 528.69 401.42 528.47 C404.10 528.25 407.31 527.05 409.45 525.89 C411.59 524.73 412.92 521.29 414.26 521.50 C415.60 521.72 415.60 516.26 417.47 527.18 C419.34 538.10 423.35 587.90 425.49 587.04 C427.63 586.18 428.97 532.00 430.31 522.02 C431.64 512.04 431.64 526.11 433.52 527.18 C435.39 528.26 438.87 528.04 441.54 528.47 C444.22 528.90 446.89 528.34 449.56 529.76 C452.24 531.18 454.91 537.66 457.59 536.98 C460.26 536.31 464.01 527.27 465.61 525.70 C467.22 524.14 466.68 526.76 467.22 527.60 C467.75 528.44 468.29 530.10 468.82 530.76 C469.36 531.42 469.89 532.59 470.43 531.57 C470.96 530.54 471.49 524.84 472.03 524.60 C472.56 524.36 473.23 529.62 473.63 530.13 C474.04 530.63 474.17 527.63 474.44 527.64 C474.70 527.64 474.84 530.58 475.24 530.16 C475.64 529.74 476.44 525.22 476.84 525.10 C477.25 524.98 477.38 528.59 477.65 529.44 C477.91 530.30 478.05 529.89 478.45 530.23 C478.85 530.58 479.65 531.87 480.05 531.54 C480.45 531.21 480.59 528.06 480.86 528.26 C481.12 528.46 481.26 532.20 481.66 532.73 C482.06 533.27 482.86 531.79 483.26 531.46 C483.66 531.13 483.80 531.68 484.07 530.75 C484.33 529.82 484.47 526.28 484.87 525.87 C485.27 525.46 486.07 526.80 486.47 528.29 C486.87 529.77 487.01 535.20 487.27 534.76 C487.54 534.33 487.68 526.05 488.08 525.68 C488.48 525.30 489.28 530.36 489.68 532.51 C490.08 534.66 490.22 538.64 490.48 538.58 C490.75 538.51 490.89 533.43 491.29 532.11 C491.69 530.79 492.49 529.62 492.89 530.68 C493.29 531.73 493.43 537.97 493.69 538.42 C493.96 538.87 494.09 534.49 494.50 533.39 C494.90 532.28 495.70 532.00 496.10 531.80 C496.50 531.61 496.64 531.83 496.90 532.23 C497.17 532.64 497.30 534.21 497.71 534.21 C498.11 534.22 498.91 533.23 499.31 532.28 C499.71 531.33 499.84 529.46 500.11 528.54 C500.38 527.61 500.51 526.51 500.91 526.74 C501.32 526.98 502.12 529.16 502.52 529.95 C502.92 530.75 503.05 531.38 503.32 531.52 C503.59 531.67 503.72 530.23 504.12 530.83 C504.52 531.44 505.33 533.57 505.73 535.16 C506.13 536.76 506.26 540.18 506.53 540.40 C506.80 540.63 506.93 538.50 507.33 536.51 C507.73 534.51 508.54 529.14 508.94 528.43 C509.34 527.71 509.47 532.27 509.74 532.22 C510.01 532.18 510.14 527.33 510.54 528.14 C510.94 528.96 511.75 536.21 512.15 537.10 C512.55 537.98 512.68 534.15 512.95 533.47 C513.22 532.79 513.35 533.45 513.75 533.02 C514.15 532.60 514.96 530.10 515.36 530.92 C515.76 531.75 515.89 538.36 516.16 537.98 C516.43 537.60 516.56 528.72 516.96 528.63 C517.36 528.54 518.16 536.28 518.57 537.42 C518.97 538.56 519.10 536.45 519.37 535.46 C519.64 534.47 519.77 532.36 520.17 531.48 C520.57 530.60 521.37 529.85 521.78 530.17 C522.18 530.49 522.31 533.07 522.58 533.41 C522.85 533.75 522.98 532.51 523.38 532.20 C523.78 531.90 524.58 531.69 524.98 531.58 C525.39 531.46 525.52 530.81 525.79 531.53 C526.05 532.25 526.19 535.64 526.59 535.88 C526.99 536.13 527.79 533.62 528.19 532.99 C528.60 532.37 528.73 519.16 529.00 532.12 C529.26 545.09 529.40 610.31 529.80 610.77 C530.20 611.24 530.87 551.43 531.40 534.92 C531.94 518.41 532.47 511.27 533.01 511.70 C533.54 512.13 534.08 532.77 534.61 537.50 C535.15 542.23 535.68 537.03 536.22 540.08 C536.75 543.13 537.29 560.98 537.82 555.82 C538.36 550.66 538.89 512.39 539.43 509.12 C539.96 505.85 540.50 536.21 541.03 536.21 C541.57 536.21 542.10 508.91 542.64 509.12 C543.17 509.33 543.71 515.14 544.24 537.50 C544.78 559.86 545.31 643.28 545.85 643.28 C546.38 643.28 546.92 559.86 547.45 537.50 C547.99 515.14 548.52 508.90 549.06 509.12 C549.59 509.34 550.13 533.20 550.66 538.79 C551.20 544.38 551.73 515.31 552.26 542.66 C552.80 570.01 553.33 703.31 553.87 702.88 C554.40 702.45 554.94 572.37 555.47 540.08 C556.01 507.79 556.54 508.26 557.08 509.12 C557.61 509.98 558.15 538.79 558.68 545.24 C559.22 551.69 559.75 533.85 560.29 547.82 C560.82 561.80 561.36 626.08 561.89 629.09 C562.43 632.10 562.96 579.86 563.50 565.88 C564.03 551.90 564.57 549.54 565.10 545.24 C565.64 540.94 566.17 541.80 566.71 540.08 C567.24 538.36 567.78 533.20 568.31 534.92 C568.85 536.64 569.38 550.40 569.92 550.40 C570.45 550.40 570.99 537.93 571.52 534.92 C572.06 531.91 572.59 533.20 573.13 532.34 C573.66 531.48 574.20 529.76 574.73 529.76 C575.27 529.76 575.80 532.77 576.34 532.34 C576.87 531.91 577.41 527.61 577.94 527.18 C578.47 526.75 579.01 528.90 579.54 529.76 C580.08 530.62 580.61 531.26 581.15 532.34 C581.68 533.42 581.95 534.92 582.75 536.21 C583.56 537.50 584.89 540.51 585.96 540.08 C587.03 539.65 588.37 534.92 589.17 533.63 C589.98 532.34 589.98 532.12 590.78 532.34 C591.58 532.56 592.92 534.06 593.99 534.92 C595.06 535.78 595.86 536.77 597.20 537.50 C598.53 538.23 601.21 539.00 602.01 539.31" fill="none" stroke="#5c5cf2" stroke-width="1.3" stroke-linejoin="round"/>
<circle cx="216.88" cy="525.12" r="2.6" fill="#5c5cf2"/>
<circle cx="224.91" cy="524.60" r="2.6" fill="#5c5cf2"/>
<circle cx="232.93" cy="524.60" r="2.6" fill="#5c5cf2"/>
<circle cx="240.95" cy="524.60" r="2.6" fill="#5c5cf2"/>
<circle cx="248.98" cy="524.60" r="2.6" fill="#5c5cf2"/>
<circle cx="257.00" cy="526.92" r="2.6" fill="#5c5cf2"/>
<circle cx="265.02" cy="527.18" r="2.6" fill="#5c5cf2"/>
<circle cx="273.05" cy="528.21" r="2.6" fill="#5c5cf2"/>
<circle cx="281.07" cy="524.60" r="2.6" fill="#5c5cf2"/>
<circle cx="289.09" cy="524.60" r="2.6" fill="#5c5cf2"/>
<circle cx="297.12" cy="525.12" r="2.6" fill="#5c5cf2"/>
<circle cx="305.14" cy="525.12" r="2.6" fill="#5c5cf2"/>
<circle cx="313.16" cy="552.21" r="2.6" fill="#5c5cf2"/>
<circle cx="321.19" cy="524.60" r="2.6" fill="#5c5cf2"/>
<circle cx="329.21" cy="529.50" r="2.6" fill="#5c5cf2"/>
<circle cx="361.31" cy="524.60" r="2.6" fill="#5c5cf2"/>
<circle cx="369.33" cy="659.28" r="2.6" fill="#5c5cf2"/>
<circle cx="377.35" cy="524.60" r="2.6" fill="#5c5cf2"/>
<circle cx="393.40" cy="527.18" r="2.6" fill="#5c5cf2"/>
<circle cx="401.42" cy="528.47" r="2.6" fill="#5c5cf2"/>
<circle cx="409.45" cy="525.89" r="2.6" fill="#5c5cf2"/>
<circle cx="417.47" cy="527.18" r="2.6" fill="#5c5cf2"/>
<circle cx="425.49" cy="587.04" r="2.6" fill="#5c5cf2"/>
<circle cx="433.52" cy="527.18" r="2.6" fill="#5c5cf2"/>
<circle cx="441.54" cy="528.47" r="2.6" fill="#5c5cf2"/>
<circle cx="449.56" cy="529.76" r="2.6" fill="#5c5cf2"/>
<circle cx="457.59" cy="536.98" r="2.6" fill="#5c5cf2"/>
<circle cx="465.61" cy="525.70" r="2.6" fill="#5c5cf2"/>
<circle cx="467.22" cy="527.60" r="2.6" fill="#5c5cf2"/>
<circle cx="468.82" cy="530.76" r="2.6" fill="#5c5cf2"/>
<circle cx="470.43" cy="531.57" r="2.6" fill="#5c5cf2"/>
<circle cx="472.03" cy="524.60" r="2.6" fill="#5c5cf2"/>
<circle cx="473.63" cy="530.13" r="2.6" fill="#5c5cf2"/>
<circle cx="474.44" cy="527.64" r="2.6" fill="#5c5cf2"/>
<circle cx="475.24" cy="530.16" r="2.6" fill="#5c5cf2"/>
<circle cx="476.84" cy="525.10" r="2.6" fill="#5c5cf2"/>
<circle cx="477.65" cy="529.44" r="2.6" fill="#5c5cf2"/>
<circle cx="478.45" cy="530.23" r="2.6" fill="#5c5cf2"/>
<circle cx="480.05" cy="531.54" r="2.6" fill="#5c5cf2"/>
<circle cx="480.86" cy="528.26" r="2.6" fill="#5c5cf2"/>
<circle cx="481.66" cy="532.73" r="2.6" fill="#5c5cf2"/>
<circle cx="483.26" cy="531.46" r="2.6" fill="#5c5cf2"/>
<circle cx="484.07" cy="530.75" r="2.6" fill="#5c5cf2"/>
<circle cx="484.87" cy="525.87" r="2.6" fill="#5c5cf2"/>
<circle cx="486.47" cy="528.29" r="2.6" fill="#5c5cf2"/>
<circle cx="487.27" cy="534.76" r="2.6" fill="#5c5cf2"/>
<circle cx="488.08" cy="525.68" r="2.6" fill="#5c5cf2"/>
<circle cx="489.68" cy="532.51" r="2.6" fill="#5c5cf2"/>
<circle cx="490.48" cy="538.58" r="2.6" fill="#5c5cf2"/>
<circle cx="491.29" cy="532.11" r="2.6" fill="#5c5cf2"/>
<circle cx="492.89" cy="530.68" r="2.6" fill="#5c5cf2"/>
<circle cx="493.69" cy="538.42" r="2.6" fill="#5c5cf2"/>
<circle cx="494.50" cy="533.39" r="2.6" fill="#5c5cf2"/>
<circle cx="496.10" cy="531.80" r="2.6" fill="#5c5cf2"/>
<circle cx="496.90" cy="532.23" r="2.6" fill="#5c5cf2"/>
<circle cx="497.71" cy="534.21" r="2.6" fill="#5c5cf2"/>
<circle cx="499.31" cy="532.28" r="2.6" fill="#5c5cf2"/>
<circle cx="500.11" cy="528.54" r="2.6" fill="#5c5cf2"/>
<circle cx="500.91" cy="526.74" r="2.6" fill="#5c5cf2"/>
<circle cx="502.52" cy="529.95" r="2.6" fill="#5c5cf2"/>
<circle cx="503.32" cy="531.52" r="2.6" fill="#5c5cf2"/>
<circle cx="504.12" cy="530.83" r="2.6" fill="#5c5cf2"/>
<circle cx="505.73" cy="535.16" r="2.6" fill="#5c5cf2"/>
<circle cx="506.53" cy="540.40" r="2.6" fill="#5c5cf2"/>
<circle cx="507.33" cy="536.51" r="2.6" fill="#5c5cf2"/>
<circle cx="508.94" cy="528.43" r="2.6" fill="#5c5cf2"/>
<circle cx="509.74" cy="532.22" r="2.6" fill="#5c5cf2"/>
<circle cx="510.54" cy="528.14" r="2.6" fill="#5c5cf2"/>
<circle cx="512.15" cy="537.10" r="2.6" fill="#5c5cf2"/>
<circle cx="512.95" cy="533.47" r="2.6" fill="#5c5cf2"/>
<circle cx="513.75" cy="533.02" r="2.6" fill="#5c5cf2"/>
<circle cx="515.36" cy="530.92" r="2.6" fill="#5c5cf2"/>
<circle cx="516.16" cy="537.98" r="2.6" fill="#5c5cf2"/>
<circle cx="516.96" cy="528.63" r="2.6" fill="#5c5cf2"/>
<circle cx="518.57" cy="537.42" r="2.6" fill="#5c5cf2"/>
<circle cx="519.37" cy="535.46" r="2.6" fill="#5c5cf2"/>
<circle cx="520.17" cy="531.48" r="2.6" fill="#5c5cf2"/>
<circle cx="521.78" cy="530.17" r="2.6" fill="#5c5cf2"/>
<circle cx="522.58" cy="533.41" r="2.6" fill="#5c5cf2"/>
<circle cx="523.38" cy="532.20" r="2.6" fill="#5c5cf2"/>
<circle cx="524.98" cy="531.58" r="2.6" fill="#5c5cf2"/>
<circle cx="525.79" cy="531.53" r="2.6" fill="#5c5cf2"/>
<circle cx="526.59" cy="535.88" r="2.6" fill="#5c5cf2"/>
<circle cx="528.19" cy="532.99" r="2.6" fill="#5c5cf2"/>
<circle cx="529.00" cy="532.12" r="2.6" fill="#5c5cf2"/>
<circle cx="529.80" cy="610.77" r="2.6" fill="#5c5cf2"/>
<circle cx="531.40" cy="534.92" r="2.6" fill="#5c5cf2"/>
<circle cx="534.61" cy="537.50" r="2.6" fill="#5c5cf2"/>
<circle cx="536.22" cy="540.08" r="2.6" fill="#5c5cf2"/>
<circle cx="537.82" cy="555.82" r="2.6" fill="#5c5cf2"/>
<circle cx="541.03" cy="536.21" r="2.6" fill="#5c5cf2"/>
<circle cx="544.24" cy="537.50" r="2.6" fill="#5c5cf2"/>
<circle cx="545.85" cy="643.28" r="2.6" fill="#5c5cf2"/>
<circle cx="547.45" cy="537.50" r="2.6" fill="#5c5cf2"/>
<circle cx="550.66" cy="538.79" r="2.6" fill="#5c5cf2"/>
<circle cx="552.26" cy="542.66" r="2.6" fill="#5c5cf2"/>
<circle cx="553.87" cy="702.88" r="2.6" fill="#5c5cf2"/>
<circle cx="555.47" cy="540.08" r="2.6" fill="#5c5cf2"/>
<circle cx="558.68" cy="545.24" r="2.6" fill="#5c5cf2"/>
<circle cx="560.29" cy="547.82" r="2.6" fill="#5c5cf2"/>
<circle cx="561.89" cy="629.09" r="2.6" fill="#5c5cf2"/>
<circle cx="563.50" cy="565.88" r="2.6" fill="#5c5cf2"/>
<circle cx="565.10" cy="545.24" r="2.6" fill="#5c5cf2"/>
<circle cx="566.71" cy="540.08" r="2.6" fill="#5c5cf2"/>
<circle cx="568.31" cy="534.92" r="2.6" fill="#5c5cf2"/>
<circle cx="569.92" cy="550.40" r="2.6" fill="#5c5cf2"/>
<circle cx="571.52" cy="534.92" r="2.6" fill="#5c5cf2"/>
<circle cx="573.13" cy="532.34" r="2.6" fill="#5c5cf2"/>
<circle cx="574.73" cy="529.76" r="2.6" fill="#5c5cf2"/>
<circle cx="576.34" cy="532.34" r="2.6" fill="#5c5cf2"/>
<circle cx="577.94" cy="527.18" r="2.6" fill="#5c5cf2"/>
<circle cx="579.54" cy="529.76" r="2.6" fill="#5c5cf2"/>
<circle cx="581.15" cy="532.34" r="2.6" fill="#5c5cf2"/>
<circle cx="582.75" cy="536.21" r="2.6" fill="#5c5cf2"/>
<circle cx="585.96" cy="540.08" r="2.6" fill="#5c5cf2"/>
<circle cx="589.17" cy="533.63" r="2.6" fill="#5c5cf2"/>
<circle cx="590.78" cy="532.34" r="2.6" fill="#5c5cf2"/>
<circle cx="593.99" cy="534.92" r="2.6" fill="#5c5cf2"/>
<circle cx="597.20" cy="537.50" r="2.6" fill="#5c5cf2"/>
<circle cx="602.01" cy="539.31" r="2.6" fill="#5c5cf2"/>
<path d="M565.10 537.50 C565.37 540.94 566.17 551.69 566.71 558.14 C567.24 564.59 567.78 571.25 568.31 576.20 C568.85 581.15 569.38 589.53 569.92 587.81 C570.45 586.09 570.99 572.98 571.52 565.88 C572.06 558.78 572.59 548.89 573.13 545.24 C573.66 541.59 574.20 546.10 574.73 543.95 C575.27 541.80 575.80 535.13 576.34 532.34 C576.87 529.55 577.41 525.25 577.94 527.18 C578.47 529.12 579.01 541.16 579.54 543.95 C580.08 546.75 580.61 543.95 581.15 543.95 C581.68 543.95 582.22 537.84 582.75 543.95 C583.29 550.06 583.82 575.21 584.36 580.59 C584.89 585.96 585.43 576.50 585.96 576.20 C586.50 575.90 587.03 583.08 587.57 578.78 C588.10 574.48 588.64 557.06 589.17 550.40 C589.71 543.74 590.24 540.51 590.78 538.79 C591.31 537.07 591.85 537.46 592.38 540.08 C592.92 542.70 593.45 556.25 593.99 554.53 C594.52 552.81 595.06 534.75 595.59 529.76 C596.13 524.77 596.66 525.46 597.20 524.60 C597.73 523.74 598.27 524.60 598.80 524.60 C599.34 524.60 599.87 524.60 600.41 524.60 C600.94 524.60 601.48 524.60 602.01 524.60 C602.55 524.60 603.08 524.60 603.62 524.60 C604.15 524.60 604.69 524.60 605.22 524.60 C605.75 524.60 606.29 524.60 606.82 524.60 C607.36 524.60 607.89 524.60 608.43 524.60 C608.96 524.60 609.50 524.60 610.03 524.60 C610.57 524.60 611.10 524.60 611.64 524.60 C612.17 524.60 612.71 524.60 613.24 524.60 C613.78 524.60 614.31 524.60 614.85 524.60 C615.38 524.60 615.92 524.60 616.45 524.60 C616.99 524.60 617.52 524.60 618.06 524.60 C618.59 524.60 619.13 524.60 619.66 524.60 C620.20 524.60 620.73 524.60 621.27 524.60 C621.80 524.60 622.34 524.60 622.87 524.60 C623.41 524.60 623.94 524.60 624.48 524.60 C625.01 524.60 625.55 524.60 626.08 524.60 C626.62 524.60 627.15 524.60 627.69 524.60 C628.22 524.60 628.76 524.60 629.29 524.60 C629.83 524.60 630.36 524.60 630.90 524.60 C631.43 524.60 631.96 524.60 632.50 524.60 C633.03 524.60 633.57 524.60 634.10 524.60 C634.64 524.60 635.17 524.60 635.71 524.60 C636.24 524.60 636.78 524.60 637.31 524.60 C637.85 524.60 638.38 524.60 638.92 524.60 C639.45 524.60 639.99 524.60 640.52 524.60 C641.06 524.60 641.59 524.60 642.13 524.60 C642.66 524.60 643.20 524.60 643.73 524.60 C644.27 524.60 644.80 524.60 645.34 524.60 C645.87 524.60 646.41 524.60 646.94 524.60 C647.48 524.60 648.01 524.60 648.55 524.60 C649.08 524.60 649.62 524.60 650.15 524.60 C650.69 524.60 651.22 524.60 651.76 524.60 C652.29 524.60 652.83 524.60 653.36 524.60 C653.90 524.60 654.43 524.60 654.97 524.60 C655.50 524.60 656.04 524.60 656.57 524.60 C657.11 524.60 656.57 524.60 658.17 524.60 C659.78 524.60 663.52 524.60 666.20 524.60 C668.87 524.60 671.55 524.60 674.22 524.60 C676.90 524.60 679.57 524.60 682.25 524.60 C684.92 524.60 687.59 524.60 690.27 524.60 C692.94 524.60 695.62 524.60 698.29 524.60 C700.97 524.60 703.64 524.60 706.32 524.60 C708.99 524.60 711.67 524.60 714.34 524.60 C717.01 524.60 719.69 524.60 722.36 524.60 C725.04 524.60 727.71 524.60 730.39 524.60 C733.06 524.60 737.07 524.60 738.41 524.60" fill="none" stroke="#f05c5c" stroke-width="1.3" stroke-linejoin="round"/>
<circle cx="565.10" cy="537.50" r="2.6" fill="#f05c5c"/>
<circle cx="566.71" cy="558.14" r="2.6" fill="#f05c5c"/>
<circle cx="568.31" cy="576.20" r="2.6" fill="#f05c5c"/>
<circle cx="569.92" cy="587.81" r="2.6" fill="#f05c5c"/>
<circle cx="571.52" cy="565.88" r="2.6" fill="#f05c5c"/>
<circle cx="573.13" cy="545.24" r="2.6" fill="#f05c5c"/>
<circle cx="574.73" cy="543.95" r="2.6" fill="#f05c5c"/>
<circle cx="576.34" cy="532.34" r="2.6" fill="#f05c5c"/>
<circle cx="577.94" cy="527.18" r="2.6" fill="#f05c5c"/>
<circle cx="579.54" cy="543.95" r="2.6" fill="#f05c5c"/>
<circle cx="581.15" cy="543.95" r="2.6" fill="#f05c5c"/>
<circle cx="582.75" cy="543.95" r="2.6" fill="#f05c5c"/>
<circle cx="584.36" cy="580.59" r="2.6" fill="#f05c5c"/>
<circle cx="585.96" cy="576.20" r="2.6" fill="#f05c5c"/>
<circle cx="587.57" cy="578.78" r="2.6" fill="#f05c5c"/>
<circle cx="589.17" cy="550.40" r="2.6" fill="#f05c5c"/>
<circle cx="590.78" cy="538.79" r="2.6" fill="#f05c5c"/>
<circle cx="592.38" cy="540.08" r="2.6" fill="#f05c5c"/>
<circle cx="593.99" cy="554.53" r="2.6" fill="#f05c5c"/>
<circle cx="595.59" cy="529.76" r="2.6" fill="#f05c5c"/>
<circle cx="597.20" cy="524.60" r="2.6" fill="#f05c5c"/>
<circle cx="598.80" cy="524.60" r="2.6" fill="#f05c5c"/>
<circle cx="600.41" cy="524.60" r="2.6" fill="#f05c5c"/>
<circle cx="602.01" cy="524.60" r="2.6" fill="#f05c5c"/>
<circle cx="603.62" cy="524.60" r="2.6" fill="#f05c5c"/>
<circle cx="605.22" cy="524.60" r="2.6" fill="#f05c5c"/>
<circle cx="606.82" cy="524.60" r="2.6" fill="#f05c5c"/>
<circle cx="608.43" cy="524.60" r="2.6" fill="#f05c5c"/>
<circle cx="610.03" cy="524.60" r="2.6" fill="#f05c5c"/>
<circle cx="611.64" cy="524.60" r="2.6" fill="#f05c5c"/>
<circle cx="613.24" cy="524.60" r="2.6" fill="#f05c5c"/>
<circle cx="614.85" cy="524.60" r="2.6" fill="#f05c5c"/>
<circle cx="616.45" cy="524.60" r="2.6" fill="#f05c5c"/>
<circle cx="618.06" cy="524.60" r="2.6" fill="#f05c5c"/>
<circle cx="619.66" cy="524.60" r="2.6" fill="#f05c5c"/>
<circle cx="621.27" cy="524.60" r="2.6" fill="#f05c5c"/>
<circle cx="622.87" cy="524.60" r="2.6" fill="#f05c5c"/>
<circle cx="624.48" cy="524.60" r="2.6" fill="#f05c5c"/>
<circle cx="626.08" cy="524.60" r="2.6" fill="#f05c5c"/>
<circle cx="627.69" cy="524.60" r="2.6" fill="#f05c5c"/>
<circle cx="629.29" cy="524.60" r="2.6" fill="#f05c5c"/>
<circle cx="630.90" cy="524.60" r="2.6" fill="#f05c5c"/>
<circle cx="632.50" cy="524.60" r="2.6" fill="#f05c5c"/>
<circle cx="634.10" cy="524.60" r="2.6" fill="#f05c5c"/>
<circle cx="635.71" cy="524.60" r="2.6" fill="#f05c5c"/>
<circle cx="637.31" cy="524.60" r="2.6" fill="#f05c5c"/>
<circle cx="638.92" cy="524.60" r="2.6" fill="#f05c5c"/>
<circle cx="640.52" cy="524.60" r="2.6" fill="#f05c5c"/>
<circle cx="642.13" cy="524.60" r="2.6" fill="#f05c5c"/>
<circle cx="643.73" cy="524.60" r="2.6" fill="#f05c5c"/>
<circle cx="645.34" cy="524.60" r="2.6" fill="#f05c5c"/>
<circle cx="646.94" cy="524.60" r="2.6" fill="#f05c5c"/>
<circle cx="648.55" cy="524.60" r="2.6" fill="#f05c5c"/>
<circle cx="650.15" cy="524.60" r="2.6" fill="#f05c5c"/>
<circle cx="651.76" cy="524.60" r="2.6" fill="#f05c5c"/>
<circle cx="653.36" cy="524.60" r="2.6" fill="#f05c5c"/>
<circle cx="654.97" cy="524.60" r="2.6" fill="#f05c5c"/>
<circle cx="656.57" cy="524.60" r="2.6" fill="#f05c5c"/>
<circle cx="658.17" cy="524.60" r="2.6" fill="#f05c5c"/>
<circle cx="666.20" cy="524.60" r="2.6" fill="#f05c5c"/>
<circle cx="674.22" cy="524.60" r="2.6" fill="#f05c5c"/>
<circle cx="682.25" cy="524.60" r="2.6" fill="#f05c5c"/>
<circle cx="690.27" cy="524.60" r="2.6" fill="#f05c5c"/>
<circle cx="698.29" cy="524.60" r="2.6" fill="#f05c5c"/>
<circle cx="706.32" cy="524.60" r="2.6" fill="#f05c5c"/>
<circle cx="714.34" cy="524.60" r="2.6" fill="#f05c5c"/>
<circle cx="722.36" cy="524.60" r="2.6" fill="#f05c5c"/>
<circle cx="730.39" cy="524.60" r="2.6" fill="#f05c5c"/>
<circle cx="738.41" cy="524.60" r="2.6" fill="#f05c5c"/>
</g>
<path d="M577.6 515V712" stroke="#8f7038" stroke-width="1"/>
<text x="182.0" y="530.2" font-family="Liberation Sans" font-size="13.3" font-weight="normal" fill="#c6c9cf" text-anchor="end" letter-spacing="0.55">0</text>
<text x="182.0" y="556.0" font-family="Liberation Sans" font-size="13.3" font-weight="normal" fill="#c6c9cf" text-anchor="end" letter-spacing="0.55">-100</text>
<text x="182.0" y="581.8000000000001" font-family="Liberation Sans" font-size="13.3" font-weight="normal" fill="#c6c9cf" text-anchor="end" letter-spacing="0.55">-200</text>
<text x="182.0" y="607.6" font-family="Liberation Sans" font-size="13.3" font-weight="normal" fill="#c6c9cf" text-anchor="end" letter-spacing="0.55">-300</text>
<text x="182.0" y="633.4000000000001" font-family="Liberation Sans" font-size="13.3" font-weight="normal" fill="#c6c9cf" text-anchor="end" letter-spacing="0.55">-400</text>
<text x="182.0" y="659.2" font-family="Liberation Sans" font-size="13.3" font-weight="normal" fill="#c6c9cf" text-anchor="end" letter-spacing="0.55">-500</text>
<text x="182.0" y="685.0000000000001" font-family="Liberation Sans" font-size="13.3" font-weight="normal" fill="#c6c9cf" text-anchor="end" letter-spacing="0.55">-600</text>
<text x="182.0" y="710.8000000000001" font-family="Liberation Sans" font-size="13.3" font-weight="normal" fill="#c6c9cf" text-anchor="end" letter-spacing="0.55">-700</text>
<text x="257.3" y="733.2" font-family="Liberation Sans" font-size="13.3" font-weight="normal" fill="#c6c9cf" text-anchor="middle" letter-spacing="0.55">400</text>
<text x="337.535" y="733.2" font-family="Liberation Sans" font-size="13.3" font-weight="normal" fill="#c6c9cf" text-anchor="middle" letter-spacing="0.55">450</text>
<text x="417.77000000000004" y="733.2" font-family="Liberation Sans" font-size="13.3" font-weight="normal" fill="#c6c9cf" text-anchor="middle" letter-spacing="0.55">500</text>
<text x="498.00500000000005" y="733.2" font-family="Liberation Sans" font-size="13.3" font-weight="normal" fill="#c6c9cf" text-anchor="middle" letter-spacing="0.55">550</text>
<text x="578.24" y="733.2" font-family="Liberation Sans" font-size="13.3" font-weight="normal" fill="#c6c9cf" text-anchor="middle" letter-spacing="0.55">600</text>
<text x="658.4749999999999" y="733.2" font-family="Liberation Sans" font-size="13.3" font-weight="normal" fill="#c6c9cf" text-anchor="middle" letter-spacing="0.55">650</text>
<text x="738.71" y="733.2" font-family="Liberation Sans" font-size="13.3" font-weight="normal" fill="#c6c9cf" text-anchor="middle" letter-spacing="0.55">700</text>
<text x="477.3" y="751" font-family="Liberation Sans" font-size="12.8" font-weight="normal" fill="#c6c9cf" text-anchor="middle" textLength="37.4" lengthAdjust="spacingAndGlyphs" >Strike</text>
<text transform="translate(143.8,613) rotate(-90)" x="0" y="0" font-family="Liberation Sans" font-size="13" fill="#c6c9cf" text-anchor="middle" textLength="104.3" lengthAdjust="spacingAndGlyphs">Charm Exposure</text>
<path d="M351 772.5h13.3" stroke="#f05c5c" stroke-width="1.3"/>
<circle cx="357.8" cy="772.5" r="2.7" fill="#f05c5c"/>
<text x="368.4" y="776.8" font-family="Liberation Sans" font-size="13" font-weight="normal" fill="#eceef2" text-anchor="start" textLength="76.4" lengthAdjust="spacingAndGlyphs" >2025-06-10</text>
<path d="M451 772.5h13.3" stroke="#5c5cf2" stroke-width="1.3"/>
<circle cx="457.8" cy="772.5" r="2.7" fill="#5c5cf2"/>
<text x="467.5" y="776.8" font-family="Liberation Sans" font-size="13" font-weight="normal" fill="#eceef2" text-anchor="start" textLength="76.4" lengthAdjust="spacingAndGlyphs" >2025-06-13</text>
<rect x="580.2" y="518.9" width="49.7" height="16" fill="#c98f22"/>
<text x="605" y="530.8" font-family="Liberation Sans" font-size="12.5" font-weight="bold" fill="#2b1c08" text-anchor="middle" textLength="47" lengthAdjust="spacingAndGlyphs" >599.68</text>
<text x="1027.5" y="501.6" font-family="Liberation Sans" font-size="16" font-weight="bold" fill="#e6a23c" text-anchor="start" textLength="151.7" lengthAdjust="spacingAndGlyphs" >Weighted IVol Skew</text>
<clipPath id="cs"><rect x="844.6" y="514.5" width="575.4" height="197.5"/></clipPath>
<path d="M870.8 514.5V711.7 M912.3 514.5V711.7 M953.8 514.5V711.7 M995.3 514.5V711.7 M1036.8 514.5V711.7 M1078.3 514.5V711.7 M1119.8 514.5V711.7 M1161.3 514.5V711.7 M1202.8 514.5V711.7 M1244.3 514.5V711.7 M1285.8 514.5V711.7 M1327.3 514.5V711.7 M1368.8 514.5V711.7 M1410.3 514.5V711.7 M844.6 708.5H1419.6 M844.6 665.7H1419.6 M844.6 622.9H1419.6 M844.6 580.0H1419.6 M844.6 537.2H1419.6" stroke="#21273a" stroke-width="1" stroke-dasharray="1.5 2.1" fill="none"/>
<path d="M840.5 514.5V711.7 M844.6 715.5H1419.6" stroke="#666c7a" stroke-width="1" fill="none"/>
<path d="M870.8 715.5v2.8 M912.3 715.5v2.8 M953.8 715.5v2.8 M995.3 715.5v2.8 M1036.8 715.5v2.8 M1078.3 715.5v2.8 M1119.8 715.5v2.8 M1161.3 715.5v2.8 M1202.8 715.5v2.8 M1244.3 715.5v2.8 M1285.8 715.5v2.8 M1327.3 715.5v2.8 M1368.8 715.5v2.8 M1410.3 715.5v2.8 M840.5 708.5h-2.6 M840.5 665.7h-2.6 M840.5 622.9h-2.6 M840.5 580.0h-2.6 M840.5 537.2h-2.6" stroke="#666c7a" stroke-width="1" fill="none"/>
<g clip-path="url(#cs)">
<path d="M871.20 546.00 L871.20 617.50 L872.90 529.00 L872.90 614.40 L874.80 598.90 L875.50 630.70 L876.80 547.60 L880.50 563.90 L882.50 548.40 L884.40 593.40 L889.20 587.20 L893.40 572.50 L896.80 523.50 L900.70 574.00 L910.00 598.90 L916.70 622.10 L928.30 594.20 L934.50 627.60 L943.80 631.00 L952.20 658.80 L967.90 665.70 L980.40 582.50 L986.40 642.60 L995.60 626.40 L1031.70 613.50 L1037.20 640.30 L1083.50 631.00 L1187.50 664.30 L1202.30 649.60 L1394.10 703.60" fill="none" stroke="#db5878" stroke-width="1.25" stroke-linejoin="round"/>
</g>
<path d="M1031.7 515V712" stroke="#6a707c" stroke-width="1" stroke-dasharray="1.5 1.5"/>
<text x="835.5" y="714.1" font-family="Liberation Sans" font-size="13.3" font-weight="normal" fill="#c6c9cf" text-anchor="end" letter-spacing="0.55">0.50</text>
<text x="835.5" y="671.275" font-family="Liberation Sans" font-size="13.3" font-weight="normal" fill="#c6c9cf" text-anchor="end" letter-spacing="0.55">0.55</text>
<text x="835.5" y="628.45" font-family="Liberation Sans" font-size="13.3" font-weight="normal" fill="#c6c9cf" text-anchor="end" letter-spacing="0.55">0.60</text>
<text x="835.5" y="585.625" font-family="Liberation Sans" font-size="13.3" font-weight="normal" fill="#c6c9cf" text-anchor="end" letter-spacing="0.55">0.65</text>
<text x="835.5" y="542.8000000000001" font-family="Liberation Sans" font-size="13.3" font-weight="normal" fill="#c6c9cf" text-anchor="end" letter-spacing="0.55">0.70</text>
<text x="871.0999999999999" y="733.2" font-family="Liberation Sans" font-size="13.3" font-weight="normal" fill="#c6c9cf" text-anchor="middle" letter-spacing="0.55">0.0</text>
<text x="912.5999999999999" y="733.2" font-family="Liberation Sans" font-size="13.3" font-weight="normal" fill="#c6c9cf" text-anchor="middle" letter-spacing="0.55">0.2</text>
<text x="954.0999999999999" y="733.2" font-family="Liberation Sans" font-size="13.3" font-weight="normal" fill="#c6c9cf" text-anchor="middle" letter-spacing="0.55">0.4</text>
<text x="995.5999999999999" y="733.2" font-family="Liberation Sans" font-size="13.3" font-weight="normal" fill="#c6c9cf" text-anchor="middle" letter-spacing="0.55">0.6</text>
<text x="1037.1" y="733.2" font-family="Liberation Sans" font-size="13.3" font-weight="normal" fill="#c6c9cf" text-anchor="middle" letter-spacing="0.55">0.8</text>
<text x="1078.6" y="733.2" font-family="Liberation Sans" font-size="13.3" font-weight="normal" fill="#c6c9cf" text-anchor="middle" letter-spacing="0.55">1.0</text>
<text x="1120.1" y="733.2" font-family="Liberation Sans" font-size="13.3" font-weight="normal" fill="#c6c9cf" text-anchor="middle" letter-spacing="0.55">1.2</text>
<text x="1161.6" y="733.2" font-family="Liberation Sans" font-size="13.3" font-weight="normal" fill="#c6c9cf" text-anchor="middle" letter-spacing="0.55">1.4</text>
<text x="1203.1" y="733.2" font-family="Liberation Sans" font-size="13.3" font-weight="normal" fill="#c6c9cf" text-anchor="middle" letter-spacing="0.55">1.6</text>
<text x="1244.6" y="733.2" font-family="Liberation Sans" font-size="13.3" font-weight="normal" fill="#c6c9cf" text-anchor="middle" letter-spacing="0.55">1.8</text>
<text x="1286.1" y="733.2" font-family="Liberation Sans" font-size="13.3" font-weight="normal" fill="#c6c9cf" text-anchor="middle" letter-spacing="0.55">2.0</text>
<text x="1327.6" y="733.2" font-family="Liberation Sans" font-size="13.3" font-weight="normal" fill="#c6c9cf" text-anchor="middle" letter-spacing="0.55">2.2</text>
<text x="1369.1" y="733.2" font-family="Liberation Sans" font-size="13.3" font-weight="normal" fill="#c6c9cf" text-anchor="middle" letter-spacing="0.55">2.4</text>
<text x="1410.6" y="733.2" font-family="Liberation Sans" font-size="13.3" font-weight="normal" fill="#c6c9cf" text-anchor="middle" letter-spacing="0.55">2.6</text>
<text x="1131.7" y="751" font-family="Liberation Sans" font-size="12.8" font-weight="normal" fill="#c6c9cf" text-anchor="middle" textLength="39" lengthAdjust="spacingAndGlyphs" >Expiry</text>
<text transform="translate(799,610.8) rotate(-90)" x="0" y="0" font-family="Liberation Sans" font-size="13" fill="#c6c9cf" text-anchor="middle" textLength="134.6" lengthAdjust="spacingAndGlyphs">Volatility Imbalance</text>
<path d="M1006.3 771.6h13.3" stroke="#a83e5c" stroke-width="1.3"/>
<text x="1023" y="775.9" font-family="Liberation Sans" font-size="13" font-weight="normal" fill="#eceef2" text-anchor="start" textLength="76.4" lengthAdjust="spacingAndGlyphs" >2025-06-10</text>
<path d="M1105.4 771.6h13.3" stroke="#3d3db5" stroke-width="1.3"/>
<text x="1122.1" y="775.9" font-family="Liberation Sans" font-size="13" font-weight="normal" fill="#eceef2" text-anchor="start" textLength="76.4" lengthAdjust="spacingAndGlyphs" >2025-06-13</text>
</svg>
</body></html>
